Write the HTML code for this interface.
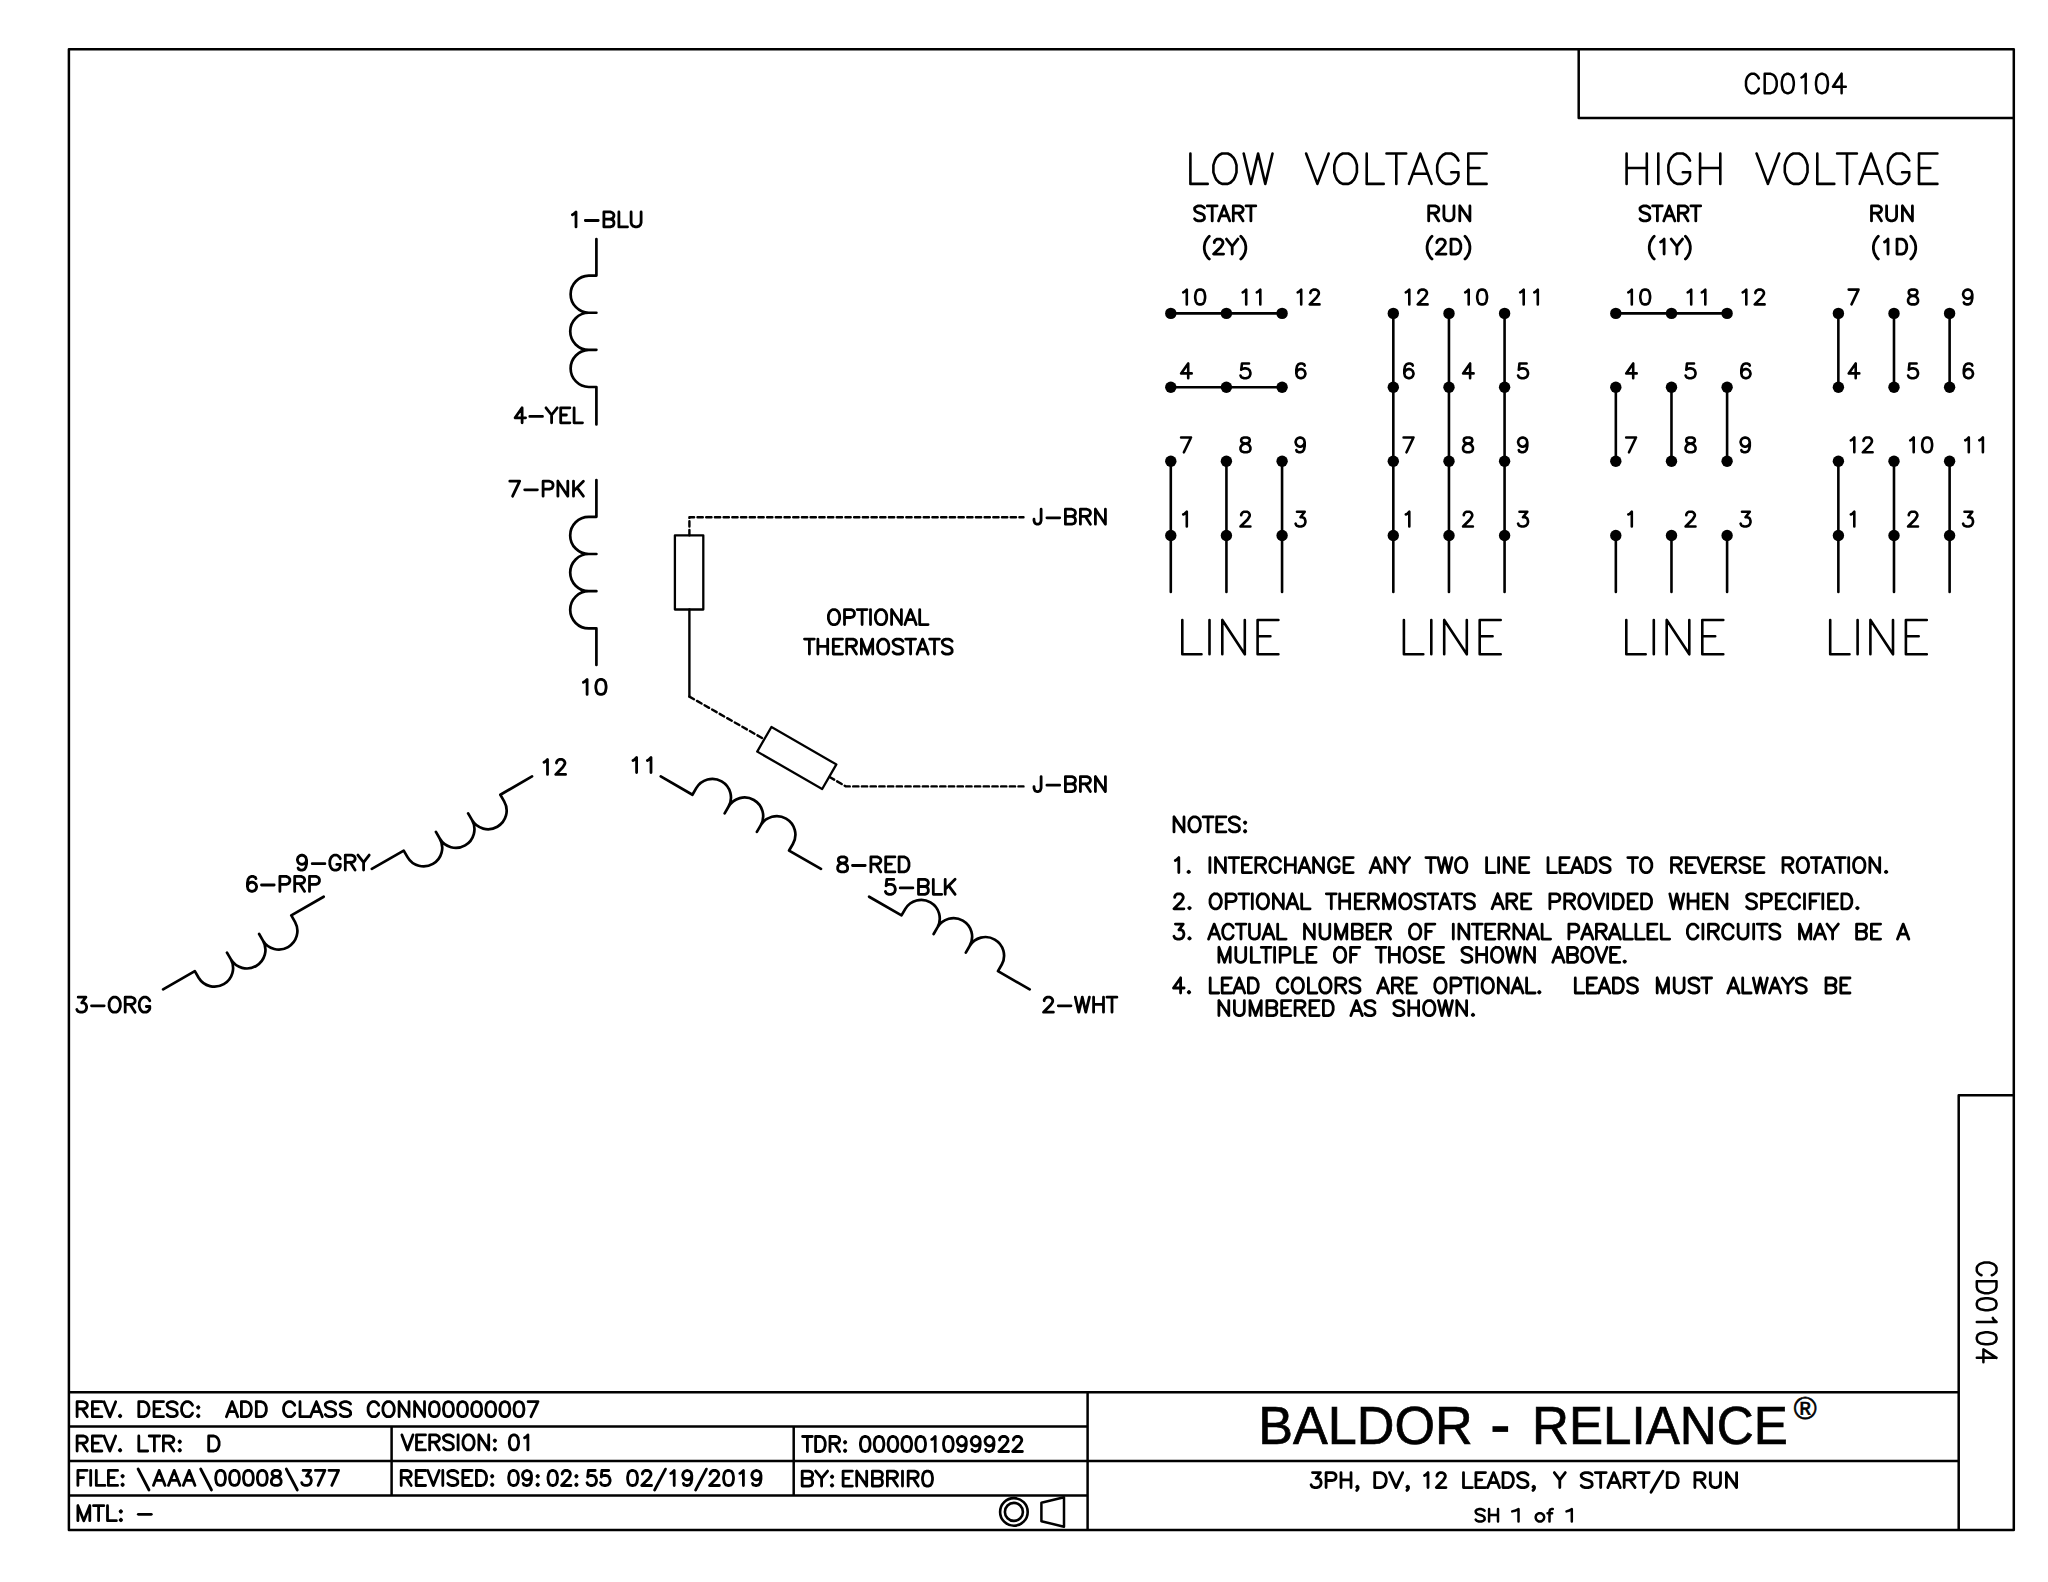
<!DOCTYPE html>
<html lang="en">
<head>
<meta charset="utf-8">
<title>CD0104 - Baldor-Reliance connection diagram</title>
<style>
html,body{margin:0;padding:0;background:#fff;}
body{width:2048px;height:1582px;overflow:hidden;font-family:"Liberation Sans",sans-serif;}
svg{display:block;position:absolute;left:0;top:0;}
.ink{fill:none;stroke:#000;stroke-linecap:round;stroke-linejoin:round;}
.txt text{font-family:"Liberation Sans",sans-serif;fill:#000;fill-opacity:0;}
.brand{font-family:"Liberation Sans",sans-serif;fill:#000;}
</style>
</head>
<body>
<svg width="2048" height="1582" viewBox="0 0 2048 1582">
<rect x="0" y="0" width="2048" height="1582" fill="#fff"/>
<g class="txt">
<text x="1181.9" y="305.7" font-size="21.5" textLength="24.5" lengthAdjust="spacingAndGlyphs">10</text>
<text x="1241.4" y="305.7" font-size="21.5" textLength="20.2" lengthAdjust="spacingAndGlyphs">11</text>
<text x="1296.4" y="305.7" font-size="21.5" textLength="24.5" lengthAdjust="spacingAndGlyphs">12</text>
<text x="1179.8" y="379.6" font-size="21.5" textLength="13.2" lengthAdjust="spacingAndGlyphs">4</text>
<text x="1239.2" y="379.6" font-size="21.5" textLength="12.5" lengthAdjust="spacingAndGlyphs">5</text>
<text x="1295.0" y="379.6" font-size="21.5" textLength="11.8" lengthAdjust="spacingAndGlyphs">6</text>
<text x="1179.8" y="453.6" font-size="21.5" textLength="12.5" lengthAdjust="spacingAndGlyphs">7</text>
<text x="1239.2" y="453.6" font-size="21.5" textLength="12.5" lengthAdjust="spacingAndGlyphs">8</text>
<text x="1294.3" y="453.6" font-size="21.5" textLength="11.8" lengthAdjust="spacingAndGlyphs">9</text>
<text x="1181.9" y="527.8" font-size="21.5" textLength="6.1" lengthAdjust="spacingAndGlyphs">1</text>
<text x="1239.2" y="527.8" font-size="21.5" textLength="12.5" lengthAdjust="spacingAndGlyphs">2</text>
<text x="1294.3" y="527.8" font-size="21.5" textLength="12.5" lengthAdjust="spacingAndGlyphs">3</text>
<text x="1404.5" y="305.7" font-size="21.5" textLength="24.5" lengthAdjust="spacingAndGlyphs">12</text>
<text x="1463.9" y="305.7" font-size="21.5" textLength="24.5" lengthAdjust="spacingAndGlyphs">10</text>
<text x="1518.9" y="305.7" font-size="21.5" textLength="20.2" lengthAdjust="spacingAndGlyphs">11</text>
<text x="1403.0" y="379.6" font-size="21.5" textLength="11.8" lengthAdjust="spacingAndGlyphs">6</text>
<text x="1461.8" y="379.6" font-size="21.5" textLength="13.2" lengthAdjust="spacingAndGlyphs">4</text>
<text x="1516.8" y="379.6" font-size="21.5" textLength="12.5" lengthAdjust="spacingAndGlyphs">5</text>
<text x="1402.3" y="453.6" font-size="21.5" textLength="12.5" lengthAdjust="spacingAndGlyphs">7</text>
<text x="1461.8" y="453.6" font-size="21.5" textLength="12.5" lengthAdjust="spacingAndGlyphs">8</text>
<text x="1516.8" y="453.6" font-size="21.5" textLength="11.8" lengthAdjust="spacingAndGlyphs">9</text>
<text x="1404.5" y="527.8" font-size="21.5" textLength="6.1" lengthAdjust="spacingAndGlyphs">1</text>
<text x="1461.8" y="527.8" font-size="21.5" textLength="12.5" lengthAdjust="spacingAndGlyphs">2</text>
<text x="1516.8" y="527.8" font-size="21.5" textLength="12.5" lengthAdjust="spacingAndGlyphs">3</text>
<text x="1627.0" y="305.7" font-size="21.5" textLength="24.5" lengthAdjust="spacingAndGlyphs">10</text>
<text x="1686.4" y="305.7" font-size="21.5" textLength="20.2" lengthAdjust="spacingAndGlyphs">11</text>
<text x="1741.4" y="305.7" font-size="21.5" textLength="24.5" lengthAdjust="spacingAndGlyphs">12</text>
<text x="1624.9" y="379.6" font-size="21.5" textLength="13.2" lengthAdjust="spacingAndGlyphs">4</text>
<text x="1684.3" y="379.6" font-size="21.5" textLength="12.5" lengthAdjust="spacingAndGlyphs">5</text>
<text x="1740.0" y="379.6" font-size="21.5" textLength="11.8" lengthAdjust="spacingAndGlyphs">6</text>
<text x="1624.9" y="453.6" font-size="21.5" textLength="12.5" lengthAdjust="spacingAndGlyphs">7</text>
<text x="1684.3" y="453.6" font-size="21.5" textLength="12.5" lengthAdjust="spacingAndGlyphs">8</text>
<text x="1739.3" y="453.6" font-size="21.5" textLength="11.8" lengthAdjust="spacingAndGlyphs">9</text>
<text x="1627.0" y="527.8" font-size="21.5" textLength="6.1" lengthAdjust="spacingAndGlyphs">1</text>
<text x="1684.3" y="527.8" font-size="21.5" textLength="12.5" lengthAdjust="spacingAndGlyphs">2</text>
<text x="1739.3" y="527.8" font-size="21.5" textLength="12.5" lengthAdjust="spacingAndGlyphs">3</text>
<text x="1847.4" y="305.7" font-size="21.5" textLength="12.5" lengthAdjust="spacingAndGlyphs">7</text>
<text x="1906.8" y="305.7" font-size="21.5" textLength="12.5" lengthAdjust="spacingAndGlyphs">8</text>
<text x="1961.8" y="305.7" font-size="21.5" textLength="11.8" lengthAdjust="spacingAndGlyphs">9</text>
<text x="1847.4" y="379.6" font-size="21.5" textLength="13.2" lengthAdjust="spacingAndGlyphs">4</text>
<text x="1906.8" y="379.6" font-size="21.5" textLength="12.5" lengthAdjust="spacingAndGlyphs">5</text>
<text x="1962.5" y="379.6" font-size="21.5" textLength="11.8" lengthAdjust="spacingAndGlyphs">6</text>
<text x="1849.5" y="453.6" font-size="21.5" textLength="24.5" lengthAdjust="spacingAndGlyphs">12</text>
<text x="1908.9" y="453.6" font-size="21.5" textLength="24.5" lengthAdjust="spacingAndGlyphs">10</text>
<text x="1964.0" y="453.6" font-size="21.5" textLength="20.2" lengthAdjust="spacingAndGlyphs">11</text>
<text x="1849.5" y="527.8" font-size="21.5" textLength="6.1" lengthAdjust="spacingAndGlyphs">1</text>
<text x="1906.8" y="527.8" font-size="21.5" textLength="12.5" lengthAdjust="spacingAndGlyphs">2</text>
<text x="1961.8" y="527.8" font-size="21.5" textLength="12.5" lengthAdjust="spacingAndGlyphs">3</text>
<text x="1189.1" y="185.2" font-size="44.2" textLength="298.8" lengthAdjust="spacingAndGlyphs">LOW VOLTAGE</text>
<text x="1625.3" y="185.2" font-size="44.2" textLength="313.4" lengthAdjust="spacingAndGlyphs">HIGH VOLTAGE</text>
<text x="1193.2" y="222.3" font-size="21.7" textLength="64.0" lengthAdjust="spacingAndGlyphs">START</text>
<text x="1427.3" y="222.3" font-size="21.7" textLength="44.0" lengthAdjust="spacingAndGlyphs">RUN</text>
<text x="1638.6" y="222.3" font-size="21.7" textLength="63.5" lengthAdjust="spacingAndGlyphs">START</text>
<text x="1870.1" y="222.3" font-size="21.7" textLength="43.7" lengthAdjust="spacingAndGlyphs">RUN</text>
<text x="1202.9" y="255.5" font-size="21.7" textLength="44.3" lengthAdjust="spacingAndGlyphs">(2Y)</text>
<text x="1425.7" y="255.5" font-size="21.7" textLength="45.6" lengthAdjust="spacingAndGlyphs">(2D)</text>
<text x="1647.9" y="255.5" font-size="21.7" textLength="43.8" lengthAdjust="spacingAndGlyphs">(1Y)</text>
<text x="1872.0" y="255.5" font-size="21.7" textLength="45.1" lengthAdjust="spacingAndGlyphs">(1D)</text>
<text x="1181.0" y="655.6" font-size="49.8" textLength="98.7" lengthAdjust="spacingAndGlyphs">LINE</text>
<text x="1402.6" y="655.6" font-size="49.8" textLength="99.4" lengthAdjust="spacingAndGlyphs">LINE</text>
<text x="1625.0" y="655.6" font-size="49.8" textLength="99.6" lengthAdjust="spacingAndGlyphs">LINE</text>
<text x="1828.9" y="655.6" font-size="49.8" textLength="99.2" lengthAdjust="spacingAndGlyphs">LINE</text>
<text x="571.0" y="228.3" font-size="21.7" textLength="71.5" lengthAdjust="spacingAndGlyphs">1-BLU</text>
<text x="513.7" y="424.2" font-size="21.7" textLength="70.2" lengthAdjust="spacingAndGlyphs">4-YEL</text>
<text x="508.4" y="497.6" font-size="21.7" textLength="76.4" lengthAdjust="spacingAndGlyphs">7-PNK</text>
<text x="582.0" y="695.8" font-size="21.7" textLength="25.5" lengthAdjust="spacingAndGlyphs">10</text>
<text x="542.6" y="775.8" font-size="21.7" textLength="24.4" lengthAdjust="spacingAndGlyphs">12</text>
<text x="631.6" y="774.0" font-size="21.7" textLength="20.8" lengthAdjust="spacingAndGlyphs">11</text>
<text x="1032.6" y="525.6" font-size="21.7" textLength="74.2" lengthAdjust="spacingAndGlyphs">J-BRN</text>
<text x="1032.6" y="793.0" font-size="21.7" textLength="74.2" lengthAdjust="spacingAndGlyphs">J-BRN</text>
<text x="827.0" y="626.0" font-size="21.7" textLength="102.5" lengthAdjust="spacingAndGlyphs">OPTIONAL</text>
<text x="803.1" y="655.5" font-size="21.7" textLength="150.4" lengthAdjust="spacingAndGlyphs">THERMOSTATS</text>
<text x="296.0" y="871.5" font-size="21.7" textLength="74.6" lengthAdjust="spacingAndGlyphs">9-GRY</text>
<text x="246.0" y="892.8" font-size="21.7" textLength="74.8" lengthAdjust="spacingAndGlyphs">6-PRP</text>
<text x="75.4" y="1013.6" font-size="21.7" textLength="75.8" lengthAdjust="spacingAndGlyphs">3-ORG</text>
<text x="836.3" y="873.3" font-size="21.7" textLength="74.1" lengthAdjust="spacingAndGlyphs">8-RED</text>
<text x="884.0" y="895.7" font-size="21.7" textLength="72.5" lengthAdjust="spacingAndGlyphs">5-BLK</text>
<text x="1042.1" y="1013.6" font-size="21.7" textLength="76.2" lengthAdjust="spacingAndGlyphs">2-WHT</text>
<text x="1172.6" y="833.3" font-size="21.7" textLength="74.6" lengthAdjust="spacingAndGlyphs">NOTES:</text>
<text x="1173.9" y="874.0" font-size="21.7" textLength="714.3" lengthAdjust="spacingAndGlyphs">1. INTERCHANGE ANY TWO LINE LEADS TO REVERSE ROTATION.</text>
<text x="1172.6" y="910.2" font-size="21.7" textLength="686.9" lengthAdjust="spacingAndGlyphs">2. OPTIONAL THERMOSTATS ARE PROVIDED WHEN SPECIFIED.</text>
<text x="1172.6" y="940.5" font-size="21.7" textLength="737.6" lengthAdjust="spacingAndGlyphs">3. ACTUAL NUMBER OF INTERNAL PARALLEL CIRCUITS MAY BE A</text>
<text x="1217.5" y="963.7" font-size="21.7" textLength="409.3" lengthAdjust="spacingAndGlyphs">MULTIPLE OF THOSE SHOWN ABOVE.</text>
<text x="1172.1" y="994.4" font-size="21.7" textLength="679.3" lengthAdjust="spacingAndGlyphs">4. LEAD COLORS ARE OPTIONAL.  LEADS MUST ALWAYS BE</text>
<text x="1217.5" y="1017.0" font-size="21.7" textLength="257.6" lengthAdjust="spacingAndGlyphs">NUMBERED AS SHOWN.</text>
<text x="1744.7" y="94.4" font-size="28.1" textLength="102.4" lengthAdjust="spacingAndGlyphs">CD0104</text>
<text x="75.7" y="1418.1" font-size="21.7" textLength="463.7" lengthAdjust="spacingAndGlyphs">REV. DESC:  ADD CLASS CONN00000007</text>
<text x="75.7" y="1452.4" font-size="21.7" textLength="144.8" lengthAdjust="spacingAndGlyphs">REV. LTR:  D</text>
<text x="400.5" y="1451.3" font-size="21.7" textLength="128.8" lengthAdjust="spacingAndGlyphs">VERSION: 01</text>
<text x="801.2" y="1452.9" font-size="21.7" textLength="222.6" lengthAdjust="spacingAndGlyphs">TDR: 000001099922</text>
<text x="76.5" y="1486.8" font-size="21.7" textLength="263.5" lengthAdjust="spacingAndGlyphs">FILE: \AAA\00008\377</text>
<text x="399.8" y="1486.9" font-size="21.7" textLength="362.6" lengthAdjust="spacingAndGlyphs">REVISED: 09:02:55 02/19/2019</text>
<text x="800.8" y="1487.5" font-size="21.7" textLength="133.1" lengthAdjust="spacingAndGlyphs">BY: ENBRIR0</text>
<text x="76.5" y="1522.1" font-size="21.7" textLength="76.2" lengthAdjust="spacingAndGlyphs">MTL: -</text>
<text x="1309.7" y="1489.0" font-size="21.7" textLength="428.3" lengthAdjust="spacingAndGlyphs">3PH, DV, 12 LEADS, Y START/D RUN</text>
<text x="1474.4" y="1522.7" font-size="18.0" textLength="98.7" lengthAdjust="spacingAndGlyphs">SH 1 of 1</text>
<text transform="translate(1976.8,1261.2) rotate(90)" font-size="28" textLength="102" lengthAdjust="spacingAndGlyphs">CD0104</text>
</g>
<g class="ink">
<g stroke-width="2.5" stroke-linecap="butt">
<path d="M68.9,49.2H2013.8V1530.1H68.9Z"/>
<path d="M1578.7,49.2V117.9H2013.8"/>
<path d="M1958.7,1530.1V1095.3H2013.8"/>
<path d="M68.9,1392.2H1958.7"/>
<path d="M1087.6,1392.2V1530.1"/>
<path d="M68.9,1461.1H1958.7"/>
<path d="M68.9,1426.5H1087.6M68.9,1495.5H1087.6"/>
<path d="M391.6,1426.5V1495.5M793.7,1426.5V1495.5"/>
</g>
<path d="M596.4,239.0V275.6H588.77A18.57,18.57 0 0 0 588.77,312.73H596.4H588.77A18.57,18.57 0 0 0 588.77,349.87H596.4H588.77A18.57,18.57 0 0 0 588.77,387.00H596.4V424.4" stroke-width="2.7"/>
<path d="M596.4,480.0V516.8H588.80A18.60,18.60 0 0 0 588.80,554.00H596.4H588.80A18.60,18.60 0 0 0 588.80,591.20H596.4H588.80A18.60,18.60 0 0 0 588.80,628.40H596.4V665.0" stroke-width="2.7"/>
<path d="M596.4,239.0V275.6H588.77A18.57,18.57 0 0 0 588.77,312.73H596.4H588.77A18.57,18.57 0 0 0 588.77,349.87H596.4H588.77A18.57,18.57 0 0 0 588.77,387.00H596.4V424.4" stroke-width="2.7" transform="rotate(120 596.4 739.3)"/>
<path d="M596.4,480.0V516.8H588.80A18.60,18.60 0 0 0 588.80,554.00H596.4H588.80A18.60,18.60 0 0 0 588.80,591.20H596.4H588.80A18.60,18.60 0 0 0 588.80,628.40H596.4V665.0" stroke-width="2.7" transform="rotate(120 596.4 739.3)"/>
<path d="M596.4,239.0V275.6H588.77A18.57,18.57 0 0 0 588.77,312.73H596.4H588.77A18.57,18.57 0 0 0 588.77,349.87H596.4H588.77A18.57,18.57 0 0 0 588.77,387.00H596.4V424.4" stroke-width="2.7" transform="rotate(-120 596.4 739.3)"/>
<path d="M596.4,480.0V516.8H588.80A18.60,18.60 0 0 0 588.80,554.00H596.4H588.80A18.60,18.60 0 0 0 588.80,591.20H596.4H588.80A18.60,18.60 0 0 0 588.80,628.40H596.4V665.0" stroke-width="2.7" transform="rotate(-120 596.4 739.3)"/>
<g stroke-width="2.4">
<path d="M689.4,535.3V517.3H1023.5" stroke-dasharray="5.3 3.4"/>
<rect x="674.9" y="535.3" width="28.4" height="74.2" stroke-width="2.3"/>
<path d="M689.4,609.5V696.6"/><path d="M689.4,696.6L764.3,739.3" stroke-dasharray="5.3 3.4"/>
<g transform="translate(796.8,758) rotate(30)"><rect x="-37.5" y="-14.2" width="75" height="28.4" stroke-width="2.3"/></g>
<path d="M829.6,777.0L845.8,786.4H1023.5" stroke-dasharray="5.3 3.4"/>
</g>
<circle cx="1170.8" cy="313.4" r="5.7" fill="#000" stroke="none"/>
<circle cx="1170.8" cy="387.3" r="5.7" fill="#000" stroke="none"/>
<circle cx="1170.8" cy="461.3" r="5.7" fill="#000" stroke="none"/>
<circle cx="1170.8" cy="535.5" r="5.7" fill="#000" stroke="none"/>
<circle cx="1226.4" cy="313.4" r="5.7" fill="#000" stroke="none"/>
<circle cx="1226.4" cy="387.3" r="5.7" fill="#000" stroke="none"/>
<circle cx="1226.4" cy="461.3" r="5.7" fill="#000" stroke="none"/>
<circle cx="1226.4" cy="535.5" r="5.7" fill="#000" stroke="none"/>
<circle cx="1282.1" cy="313.4" r="5.7" fill="#000" stroke="none"/>
<circle cx="1282.1" cy="387.3" r="5.7" fill="#000" stroke="none"/>
<circle cx="1282.1" cy="461.3" r="5.7" fill="#000" stroke="none"/>
<circle cx="1282.1" cy="535.5" r="5.7" fill="#000" stroke="none"/>
<circle cx="1393.3" cy="313.4" r="5.7" fill="#000" stroke="none"/>
<circle cx="1393.3" cy="387.3" r="5.7" fill="#000" stroke="none"/>
<circle cx="1393.3" cy="461.3" r="5.7" fill="#000" stroke="none"/>
<circle cx="1393.3" cy="535.5" r="5.7" fill="#000" stroke="none"/>
<circle cx="1449.0" cy="313.4" r="5.7" fill="#000" stroke="none"/>
<circle cx="1449.0" cy="387.3" r="5.7" fill="#000" stroke="none"/>
<circle cx="1449.0" cy="461.3" r="5.7" fill="#000" stroke="none"/>
<circle cx="1449.0" cy="535.5" r="5.7" fill="#000" stroke="none"/>
<circle cx="1504.6" cy="313.4" r="5.7" fill="#000" stroke="none"/>
<circle cx="1504.6" cy="387.3" r="5.7" fill="#000" stroke="none"/>
<circle cx="1504.6" cy="461.3" r="5.7" fill="#000" stroke="none"/>
<circle cx="1504.6" cy="535.5" r="5.7" fill="#000" stroke="none"/>
<circle cx="1615.8" cy="313.4" r="5.7" fill="#000" stroke="none"/>
<circle cx="1615.8" cy="387.3" r="5.7" fill="#000" stroke="none"/>
<circle cx="1615.8" cy="461.3" r="5.7" fill="#000" stroke="none"/>
<circle cx="1615.8" cy="535.5" r="5.7" fill="#000" stroke="none"/>
<circle cx="1671.5" cy="313.4" r="5.7" fill="#000" stroke="none"/>
<circle cx="1671.5" cy="387.3" r="5.7" fill="#000" stroke="none"/>
<circle cx="1671.5" cy="461.3" r="5.7" fill="#000" stroke="none"/>
<circle cx="1671.5" cy="535.5" r="5.7" fill="#000" stroke="none"/>
<circle cx="1727.1" cy="313.4" r="5.7" fill="#000" stroke="none"/>
<circle cx="1727.1" cy="387.3" r="5.7" fill="#000" stroke="none"/>
<circle cx="1727.1" cy="461.3" r="5.7" fill="#000" stroke="none"/>
<circle cx="1727.1" cy="535.5" r="5.7" fill="#000" stroke="none"/>
<circle cx="1838.4" cy="313.4" r="5.7" fill="#000" stroke="none"/>
<circle cx="1838.4" cy="387.3" r="5.7" fill="#000" stroke="none"/>
<circle cx="1838.4" cy="461.3" r="5.7" fill="#000" stroke="none"/>
<circle cx="1838.4" cy="535.5" r="5.7" fill="#000" stroke="none"/>
<circle cx="1894.0" cy="313.4" r="5.7" fill="#000" stroke="none"/>
<circle cx="1894.0" cy="387.3" r="5.7" fill="#000" stroke="none"/>
<circle cx="1894.0" cy="461.3" r="5.7" fill="#000" stroke="none"/>
<circle cx="1894.0" cy="535.5" r="5.7" fill="#000" stroke="none"/>
<circle cx="1949.6" cy="313.4" r="5.7" fill="#000" stroke="none"/>
<circle cx="1949.6" cy="387.3" r="5.7" fill="#000" stroke="none"/>
<circle cx="1949.6" cy="461.3" r="5.7" fill="#000" stroke="none"/>
<circle cx="1949.6" cy="535.5" r="5.7" fill="#000" stroke="none"/>
<path d="M1170.80,313.40L1282.06,313.40" stroke-width="2.6"/>
<path d="M1170.80,387.30L1282.06,387.30" stroke-width="2.6"/>
<path d="M1170.80,461.30L1170.80,591.90" stroke-width="2.6"/>
<path d="M1226.43,461.30L1226.43,591.90" stroke-width="2.6"/>
<path d="M1282.06,461.30L1282.06,591.90" stroke-width="2.6"/>
<path d="M1393.32,313.40L1393.32,591.90" stroke-width="2.6"/>
<path d="M1448.95,313.40L1448.95,591.90" stroke-width="2.6"/>
<path d="M1504.58,313.40L1504.58,591.90" stroke-width="2.6"/>
<path d="M1615.84,313.40L1727.10,313.40" stroke-width="2.6"/>
<path d="M1615.84,387.30L1615.84,461.30" stroke-width="2.6"/>
<path d="M1615.84,535.50L1615.84,591.90" stroke-width="2.6"/>
<path d="M1671.47,387.30L1671.47,461.30" stroke-width="2.6"/>
<path d="M1671.47,535.50L1671.47,591.90" stroke-width="2.6"/>
<path d="M1727.10,387.30L1727.10,461.30" stroke-width="2.6"/>
<path d="M1727.10,535.50L1727.10,591.90" stroke-width="2.6"/>
<path d="M1838.36,313.40L1838.36,387.30" stroke-width="2.6"/>
<path d="M1838.36,461.30L1838.36,591.90" stroke-width="2.6"/>
<path d="M1893.99,313.40L1893.99,387.30" stroke-width="2.6"/>
<path d="M1893.99,461.30L1893.99,591.90" stroke-width="2.6"/>
<path d="M1949.62,313.40L1949.62,387.30" stroke-width="2.6"/>
<path d="M1949.62,461.30L1949.62,591.90" stroke-width="2.6"/>
<path d="M1183.2,292.4 1184.6,291.7 1186.8,289.6 1186.8,304.4M1199.4,289.6 1197.3,290.3 1195.9,292.4 1195.2,295.9 1195.2,298.1 1195.9,301.6 1197.3,303.7 1199.4,304.4 1200.9,304.4 1203.0,303.7 1204.4,301.6 1205.1,298.1 1205.1,295.9 1204.4,292.4 1203.0,290.3 1200.9,289.6 1199.4,289.6" stroke-width="2.6"/>
<path d="M1242.7,292.4 1244.1,291.7 1246.2,289.6 1246.2,304.4M1256.8,292.4 1258.2,291.7 1260.3,289.6 1260.3,304.4" stroke-width="2.6"/>
<path d="M1297.7,292.4 1299.1,291.7 1301.2,289.6 1301.2,304.4M1310.4,293.1 1310.4,292.4 1311.1,291.0 1311.8,290.3 1313.2,289.6 1316.0,289.6 1317.4,290.3 1318.1,291.0 1318.8,292.4 1318.8,293.8 1318.1,295.2 1316.7,297.3 1309.7,304.4 1319.5,304.4" stroke-width="2.6"/>
<path d="M1188.2,363.5 1181.1,373.4 1191.7,373.4M1188.2,363.5 1188.2,378.3" stroke-width="2.6"/>
<path d="M1249.0,363.5 1242.0,363.5 1241.2,369.8 1242.0,369.1 1244.1,368.4 1246.2,368.4 1248.3,369.1 1249.7,370.5 1250.4,372.7 1250.4,374.1 1249.7,376.2 1248.3,377.6 1246.2,378.3 1244.1,378.3 1242.0,377.6 1241.2,376.9 1240.5,375.5" stroke-width="2.6"/>
<path d="M1304.7,365.6 1304.0,364.2 1301.9,363.5 1300.5,363.5 1298.4,364.2 1297.0,366.3 1296.3,369.8 1296.3,373.4 1297.0,376.2 1298.4,377.6 1300.5,378.3 1301.2,378.3 1303.3,377.6 1304.7,376.2 1305.4,374.1 1305.4,373.4 1304.7,371.2 1303.3,369.8 1301.2,369.1 1300.5,369.1 1298.4,369.8 1297.0,371.2 1296.3,373.4" stroke-width="2.6"/>
<path d="M1191.0,437.5 1183.9,452.3M1181.1,437.5 1191.0,437.5" stroke-width="2.6"/>
<path d="M1244.1,437.5 1242.0,438.2 1241.2,439.6 1241.2,441.0 1242.0,442.4 1243.4,443.1 1246.2,443.8 1248.3,444.5 1249.7,446.0 1250.4,447.4 1250.4,449.5 1249.7,450.9 1249.0,451.6 1246.9,452.3 1244.1,452.3 1242.0,451.6 1241.2,450.9 1240.5,449.5 1240.5,447.4 1241.2,446.0 1242.7,444.5 1244.8,443.8 1247.6,443.1 1249.0,442.4 1249.7,441.0 1249.7,439.6 1249.0,438.2 1246.9,437.5 1244.1,437.5" stroke-width="2.6"/>
<path d="M1304.7,442.4 1304.0,444.5 1302.6,446.0 1300.5,446.7 1299.8,446.7 1297.7,446.0 1296.3,444.5 1295.6,442.4 1295.6,441.7 1296.3,439.6 1297.7,438.2 1299.8,437.5 1300.5,437.5 1302.6,438.2 1304.0,439.6 1304.7,442.4 1304.7,446.0 1304.0,449.5 1302.6,451.6 1300.5,452.3 1299.1,452.3 1297.0,451.6 1296.3,450.2" stroke-width="2.6"/>
<path d="M1183.2,514.5 1184.6,513.8 1186.8,511.7 1186.8,526.5" stroke-width="2.6"/>
<path d="M1241.2,515.2 1241.2,514.5 1242.0,513.1 1242.7,512.4 1244.1,511.7 1246.9,511.7 1248.3,512.4 1249.0,513.1 1249.7,514.5 1249.7,515.9 1249.0,517.3 1247.6,519.5 1240.5,526.5 1250.4,526.5" stroke-width="2.6"/>
<path d="M1297.0,511.7 1304.7,511.7 1300.5,517.3 1302.6,517.3 1304.0,518.0 1304.7,518.7 1305.4,520.9 1305.4,522.3 1304.7,524.4 1303.3,525.8 1301.2,526.5 1299.1,526.5 1297.0,525.8 1296.3,525.1 1295.6,523.7" stroke-width="2.6"/>
<path d="M1405.8,292.4 1407.2,291.7 1409.3,289.6 1409.3,304.4M1418.4,293.1 1418.4,292.4 1419.1,291.0 1419.8,290.3 1421.3,289.6 1424.1,289.6 1425.5,290.3 1426.2,291.0 1426.9,292.4 1426.9,293.8 1426.2,295.2 1424.8,297.3 1417.7,304.4 1427.6,304.4" stroke-width="2.6"/>
<path d="M1465.2,292.4 1466.6,291.7 1468.7,289.6 1468.7,304.4M1481.4,289.6 1479.3,290.3 1477.9,292.4 1477.2,295.9 1477.2,298.1 1477.9,301.6 1479.3,303.7 1481.4,304.4 1482.8,304.4 1484.9,303.7 1486.3,301.6 1487.0,298.1 1487.0,295.9 1486.3,292.4 1484.9,290.3 1482.8,289.6 1481.4,289.6" stroke-width="2.6"/>
<path d="M1520.2,292.4 1521.6,291.7 1523.7,289.6 1523.7,304.4M1534.3,292.4 1535.7,291.7 1537.8,289.6 1537.8,304.4" stroke-width="2.6"/>
<path d="M1412.8,365.6 1412.1,364.2 1410.0,363.5 1408.6,363.5 1406.5,364.2 1405.0,366.3 1404.3,369.8 1404.3,373.4 1405.0,376.2 1406.5,377.6 1408.6,378.3 1409.3,378.3 1411.4,377.6 1412.8,376.2 1413.5,374.1 1413.5,373.4 1412.8,371.2 1411.4,369.8 1409.3,369.1 1408.6,369.1 1406.5,369.8 1405.0,371.2 1404.3,373.4" stroke-width="2.6"/>
<path d="M1470.1,363.5 1463.1,373.4 1473.6,373.4M1470.1,363.5 1470.1,378.3" stroke-width="2.6"/>
<path d="M1526.6,363.5 1519.5,363.5 1518.8,369.8 1519.5,369.1 1521.6,368.4 1523.7,368.4 1525.8,369.1 1527.3,370.5 1528.0,372.7 1528.0,374.1 1527.3,376.2 1525.8,377.6 1523.7,378.3 1521.6,378.3 1519.5,377.6 1518.8,376.9 1518.1,375.5" stroke-width="2.6"/>
<path d="M1413.5,437.5 1406.5,452.3M1403.6,437.5 1413.5,437.5" stroke-width="2.6"/>
<path d="M1466.6,437.5 1464.5,438.2 1463.8,439.6 1463.8,441.0 1464.5,442.4 1465.9,443.1 1468.7,443.8 1470.8,444.5 1472.2,446.0 1472.9,447.4 1472.9,449.5 1472.2,450.9 1471.5,451.6 1469.4,452.3 1466.6,452.3 1464.5,451.6 1463.8,450.9 1463.1,449.5 1463.1,447.4 1463.8,446.0 1465.2,444.5 1467.3,443.8 1470.1,443.1 1471.5,442.4 1472.2,441.0 1472.2,439.6 1471.5,438.2 1469.4,437.5 1466.6,437.5" stroke-width="2.6"/>
<path d="M1527.3,442.4 1526.6,444.5 1525.1,446.0 1523.0,446.7 1522.3,446.7 1520.2,446.0 1518.8,444.5 1518.1,442.4 1518.1,441.7 1518.8,439.6 1520.2,438.2 1522.3,437.5 1523.0,437.5 1525.1,438.2 1526.6,439.6 1527.3,442.4 1527.3,446.0 1526.6,449.5 1525.1,451.6 1523.0,452.3 1521.6,452.3 1519.5,451.6 1518.8,450.2" stroke-width="2.6"/>
<path d="M1405.8,514.5 1407.2,513.8 1409.3,511.7 1409.3,526.5" stroke-width="2.6"/>
<path d="M1463.8,515.2 1463.8,514.5 1464.5,513.1 1465.2,512.4 1466.6,511.7 1469.4,511.7 1470.8,512.4 1471.5,513.1 1472.2,514.5 1472.2,515.9 1471.5,517.3 1470.1,519.5 1463.1,526.5 1472.9,526.5" stroke-width="2.6"/>
<path d="M1519.5,511.7 1527.3,511.7 1523.0,517.3 1525.1,517.3 1526.6,518.0 1527.3,518.7 1528.0,520.9 1528.0,522.3 1527.3,524.4 1525.8,525.8 1523.7,526.5 1521.6,526.5 1519.5,525.8 1518.8,525.1 1518.1,523.7" stroke-width="2.6"/>
<path d="M1628.3,292.4 1629.7,291.7 1631.8,289.6 1631.8,304.4M1644.5,289.6 1642.4,290.3 1641.0,292.4 1640.3,295.9 1640.3,298.1 1641.0,301.6 1642.4,303.7 1644.5,304.4 1645.9,304.4 1648.0,303.7 1649.4,301.6 1650.1,298.1 1650.1,295.9 1649.4,292.4 1648.0,290.3 1645.9,289.6 1644.5,289.6" stroke-width="2.6"/>
<path d="M1687.7,292.4 1689.1,291.7 1691.2,289.6 1691.2,304.4M1701.8,292.4 1703.2,291.7 1705.3,289.6 1705.3,304.4" stroke-width="2.6"/>
<path d="M1742.7,292.4 1744.1,291.7 1746.3,289.6 1746.3,304.4M1755.4,293.1 1755.4,292.4 1756.1,291.0 1756.8,290.3 1758.2,289.6 1761.1,289.6 1762.5,290.3 1763.2,291.0 1763.9,292.4 1763.9,293.8 1763.2,295.2 1761.8,297.3 1754.7,304.4 1764.6,304.4" stroke-width="2.6"/>
<path d="M1633.2,363.5 1626.2,373.4 1636.7,373.4M1633.2,363.5 1633.2,378.3" stroke-width="2.6"/>
<path d="M1694.0,363.5 1687.0,363.5 1686.3,369.8 1687.0,369.1 1689.1,368.4 1691.2,368.4 1693.3,369.1 1694.8,370.5 1695.5,372.7 1695.5,374.1 1694.8,376.2 1693.3,377.6 1691.2,378.3 1689.1,378.3 1687.0,377.6 1686.3,376.9 1685.6,375.5" stroke-width="2.6"/>
<path d="M1749.8,365.6 1749.1,364.2 1747.0,363.5 1745.5,363.5 1743.4,364.2 1742.0,366.3 1741.3,369.8 1741.3,373.4 1742.0,376.2 1743.4,377.6 1745.5,378.3 1746.3,378.3 1748.4,377.6 1749.8,376.2 1750.5,374.1 1750.5,373.4 1749.8,371.2 1748.4,369.8 1746.3,369.1 1745.5,369.1 1743.4,369.8 1742.0,371.2 1741.3,373.4" stroke-width="2.6"/>
<path d="M1636.0,437.5 1629.0,452.3M1626.2,437.5 1636.0,437.5" stroke-width="2.6"/>
<path d="M1689.1,437.5 1687.0,438.2 1686.3,439.6 1686.3,441.0 1687.0,442.4 1688.4,443.1 1691.2,443.8 1693.3,444.5 1694.8,446.0 1695.5,447.4 1695.5,449.5 1694.8,450.9 1694.0,451.6 1691.9,452.3 1689.1,452.3 1687.0,451.6 1686.3,450.9 1685.6,449.5 1685.6,447.4 1686.3,446.0 1687.7,444.5 1689.8,443.8 1692.6,443.1 1694.0,442.4 1694.8,441.0 1694.8,439.6 1694.0,438.2 1691.9,437.5 1689.1,437.5" stroke-width="2.6"/>
<path d="M1749.8,442.4 1749.1,444.5 1747.7,446.0 1745.5,446.7 1744.8,446.7 1742.7,446.0 1741.3,444.5 1740.6,442.4 1740.6,441.7 1741.3,439.6 1742.7,438.2 1744.8,437.5 1745.5,437.5 1747.7,438.2 1749.1,439.6 1749.8,442.4 1749.8,446.0 1749.1,449.5 1747.7,451.6 1745.5,452.3 1744.1,452.3 1742.0,451.6 1741.3,450.2" stroke-width="2.6"/>
<path d="M1628.3,514.5 1629.7,513.8 1631.8,511.7 1631.8,526.5" stroke-width="2.6"/>
<path d="M1686.3,515.2 1686.3,514.5 1687.0,513.1 1687.7,512.4 1689.1,511.7 1691.9,511.7 1693.3,512.4 1694.0,513.1 1694.8,514.5 1694.8,515.9 1694.0,517.3 1692.6,519.5 1685.6,526.5 1695.5,526.5" stroke-width="2.6"/>
<path d="M1742.0,511.7 1749.8,511.7 1745.5,517.3 1747.7,517.3 1749.1,518.0 1749.8,518.7 1750.5,520.9 1750.5,522.3 1749.8,524.4 1748.4,525.8 1746.3,526.5 1744.1,526.5 1742.0,525.8 1741.3,525.1 1740.6,523.7" stroke-width="2.6"/>
<path d="M1858.5,289.6 1851.5,304.4M1848.7,289.6 1858.5,289.6" stroke-width="2.6"/>
<path d="M1911.6,289.6 1909.5,290.3 1908.8,291.7 1908.8,293.1 1909.5,294.5 1910.9,295.2 1913.7,295.9 1915.9,296.6 1917.3,298.1 1918.0,299.5 1918.0,301.6 1917.3,303.0 1916.6,303.7 1914.5,304.4 1911.6,304.4 1909.5,303.7 1908.8,303.0 1908.1,301.6 1908.1,299.5 1908.8,298.1 1910.2,296.6 1912.3,295.9 1915.2,295.2 1916.6,294.5 1917.3,293.1 1917.3,291.7 1916.6,290.3 1914.5,289.6 1911.6,289.6" stroke-width="2.6"/>
<path d="M1972.3,294.5 1971.6,296.6 1970.2,298.1 1968.1,298.8 1967.4,298.8 1965.2,298.1 1963.8,296.6 1963.1,294.5 1963.1,293.8 1963.8,291.7 1965.2,290.3 1967.4,289.6 1968.1,289.6 1970.2,290.3 1971.6,291.7 1972.3,294.5 1972.3,298.1 1971.6,301.6 1970.2,303.7 1968.1,304.4 1966.7,304.4 1964.5,303.7 1963.8,302.3" stroke-width="2.6"/>
<path d="M1855.7,363.5 1848.7,373.4 1859.3,373.4M1855.7,363.5 1855.7,378.3" stroke-width="2.6"/>
<path d="M1916.6,363.5 1909.5,363.5 1908.8,369.8 1909.5,369.1 1911.6,368.4 1913.7,368.4 1915.9,369.1 1917.3,370.5 1918.0,372.7 1918.0,374.1 1917.3,376.2 1915.9,377.6 1913.7,378.3 1911.6,378.3 1909.5,377.6 1908.8,376.9 1908.1,375.5" stroke-width="2.6"/>
<path d="M1972.3,365.6 1971.6,364.2 1969.5,363.5 1968.1,363.5 1966.0,364.2 1964.5,366.3 1963.8,369.8 1963.8,373.4 1964.5,376.2 1966.0,377.6 1968.1,378.3 1968.8,378.3 1970.9,377.6 1972.3,376.2 1973.0,374.1 1973.0,373.4 1972.3,371.2 1970.9,369.8 1968.8,369.1 1968.1,369.1 1966.0,369.8 1964.5,371.2 1963.8,373.4" stroke-width="2.6"/>
<path d="M1850.8,440.3 1852.2,439.6 1854.3,437.5 1854.3,452.3M1863.5,441.0 1863.5,440.3 1864.2,438.9 1864.9,438.2 1866.3,437.5 1869.1,437.5 1870.5,438.2 1871.2,438.9 1871.9,440.3 1871.9,441.7 1871.2,443.1 1869.8,445.2 1862.8,452.3 1872.6,452.3" stroke-width="2.6"/>
<path d="M1910.2,440.3 1911.6,439.6 1913.7,437.5 1913.7,452.3M1926.4,437.5 1924.3,438.2 1922.9,440.3 1922.2,443.8 1922.2,446.0 1922.9,449.5 1924.3,451.6 1926.4,452.3 1927.8,452.3 1930.0,451.6 1931.4,449.5 1932.1,446.0 1932.1,443.8 1931.4,440.3 1930.0,438.2 1927.8,437.5 1926.4,437.5" stroke-width="2.6"/>
<path d="M1965.2,440.3 1966.7,439.6 1968.8,437.5 1968.8,452.3M1979.3,440.3 1980.8,439.6 1982.9,437.5 1982.9,452.3" stroke-width="2.6"/>
<path d="M1850.8,514.5 1852.2,513.8 1854.3,511.7 1854.3,526.5" stroke-width="2.6"/>
<path d="M1908.8,515.2 1908.8,514.5 1909.5,513.1 1910.2,512.4 1911.6,511.7 1914.5,511.7 1915.9,512.4 1916.6,513.1 1917.3,514.5 1917.3,515.9 1916.6,517.3 1915.2,519.5 1908.1,526.5 1918.0,526.5" stroke-width="2.6"/>
<path d="M1964.5,511.7 1972.3,511.7 1968.1,517.3 1970.2,517.3 1971.6,518.0 1972.3,518.7 1973.0,520.9 1973.0,522.3 1972.3,524.4 1970.9,525.8 1968.8,526.5 1966.7,526.5 1964.5,525.8 1963.8,525.1 1963.1,523.7" stroke-width="2.6"/>
<path d="M1190.4,153.5 1190.4,183.9M1190.4,183.9 1207.7,183.9M1222.1,153.5 1219.2,155.0 1216.3,157.9 1214.9,160.7 1213.4,165.1 1213.4,172.3 1214.9,176.7 1216.3,179.6 1219.2,182.5 1222.1,183.9 1227.8,183.9 1230.7,182.5 1233.6,179.6 1235.1,176.7 1236.5,172.3 1236.5,165.1 1235.1,160.7 1233.6,157.9 1230.7,155.0 1227.8,153.5 1222.1,153.5M1243.7,153.5 1250.9,183.9M1258.1,153.5 1250.9,183.9M1258.1,153.5 1265.3,183.9M1272.5,153.5 1265.3,183.9" stroke-width="2.6"/>
<path d="M1306.1,153.5 1317.4,183.9M1328.7,153.5 1317.4,183.9M1342.8,153.5 1339.9,155.0 1337.1,157.9 1335.7,160.7 1334.3,165.1 1334.3,172.3 1335.7,176.7 1337.1,179.6 1339.9,182.5 1342.8,183.9 1348.4,183.9 1351.2,182.5 1354.0,179.6 1355.5,176.7 1356.9,172.3 1356.9,165.1 1355.5,160.7 1354.0,157.9 1351.2,155.0 1348.4,153.5 1342.8,153.5M1366.7,153.5 1366.7,183.9M1366.7,183.9 1383.7,183.9M1396.3,153.5 1396.3,183.9M1386.5,153.5 1406.2,153.5M1420.3,153.5 1409.0,183.9M1420.3,153.5 1431.6,183.9M1413.3,173.8 1427.4,173.8M1458.4,160.7 1457.0,157.9 1454.2,155.0 1451.3,153.5 1445.7,153.5 1442.9,155.0 1440.1,157.9 1438.7,160.7 1437.2,165.1 1437.2,172.3 1438.7,176.7 1440.1,179.6 1442.9,182.5 1445.7,183.9 1451.3,183.9 1454.2,182.5 1457.0,179.6 1458.4,176.7 1458.4,172.3M1451.3,172.3 1458.4,172.3M1468.3,153.5 1468.3,183.9M1468.3,153.5 1486.6,153.5M1468.3,168.0 1479.5,168.0M1468.3,183.9 1486.6,183.9" stroke-width="2.6"/>
<path d="M1626.6,153.5 1626.6,183.9M1646.8,153.5 1646.8,183.9M1626.6,168.0 1646.8,168.0M1658.3,153.5 1658.3,183.9M1690.0,160.7 1688.6,157.9 1685.7,155.0 1682.8,153.5 1677.1,153.5 1674.2,155.0 1671.3,157.9 1669.8,160.7 1668.4,165.1 1668.4,172.3 1669.8,176.7 1671.3,179.6 1674.2,182.5 1677.1,183.9 1682.8,183.9 1685.7,182.5 1688.6,179.6 1690.0,176.7 1690.0,172.3M1682.8,172.3 1690.0,172.3M1700.1,153.5 1700.1,183.9M1720.3,153.5 1720.3,183.9M1700.1,168.0 1720.3,168.0" stroke-width="2.6"/>
<path d="M1756.6,153.5 1767.9,183.9M1779.2,153.5 1767.9,183.9M1793.3,153.5 1790.5,155.0 1787.7,157.9 1786.3,160.7 1784.8,165.1 1784.8,172.3 1786.3,176.7 1787.7,179.6 1790.5,182.5 1793.3,183.9 1799.0,183.9 1801.8,182.5 1804.6,179.6 1806.0,176.7 1807.5,172.3 1807.5,165.1 1806.0,160.7 1804.6,157.9 1801.8,155.0 1799.0,153.5 1793.3,153.5M1817.3,153.5 1817.3,183.9M1817.3,183.9 1834.3,183.9M1847.0,153.5 1847.0,183.9M1837.1,153.5 1856.9,153.5M1871.0,153.5 1859.7,183.9M1871.0,153.5 1882.3,183.9M1864.0,173.8 1878.1,173.8M1909.2,160.7 1907.7,157.9 1904.9,155.0 1902.1,153.5 1896.4,153.5 1893.6,155.0 1890.8,157.9 1889.4,160.7 1888.0,165.1 1888.0,172.3 1889.4,176.7 1890.8,179.6 1893.6,182.5 1896.4,183.9 1902.1,183.9 1904.9,182.5 1907.7,179.6 1909.2,176.7 1909.2,172.3M1902.1,172.3 1909.2,172.3M1919.0,153.5 1919.0,183.9M1919.0,153.5 1937.4,153.5M1919.0,168.0 1930.3,168.0M1919.0,183.9 1937.4,183.9" stroke-width="2.6"/>
<path d="M1204.4,208.1 1203.0,206.7 1200.9,205.9 1198.1,205.9 1196.0,206.7 1194.6,208.1 1194.6,209.5 1195.3,210.9 1196.0,211.6 1197.4,212.4 1201.6,213.8 1203.0,214.5 1203.7,215.2 1204.4,216.6 1204.4,218.8 1203.0,220.2 1200.9,220.9 1198.1,220.9 1196.0,220.2 1194.6,218.8M1212.2,205.9 1212.2,220.9M1207.3,205.9 1217.1,205.9M1224.1,205.9 1218.5,220.9M1224.1,205.9 1229.8,220.9M1220.6,215.9 1227.7,215.9M1233.3,205.9 1233.3,220.9M1233.3,205.9 1239.6,205.9 1241.7,206.7 1242.4,207.4 1243.1,208.8 1243.1,210.2 1242.4,211.6 1241.7,212.4 1239.6,213.1 1233.3,213.1M1238.2,213.1 1243.1,220.9M1250.9,205.9 1250.9,220.9M1246.0,205.9 1255.8,205.9" stroke-width="2.8"/>
<path d="M1428.7,205.9 1428.7,220.9M1428.7,205.9 1435.2,205.9 1437.4,206.7 1438.1,207.4 1438.8,208.8 1438.8,210.2 1438.1,211.6 1437.4,212.4 1435.2,213.1 1428.7,213.1M1433.8,213.1 1438.8,220.9M1443.9,205.9 1443.9,216.6 1444.6,218.8 1446.0,220.2 1448.2,220.9 1449.7,220.9 1451.8,220.2 1453.3,218.8 1454.0,216.6 1454.0,205.9M1459.8,205.9 1459.8,220.9M1459.8,205.9 1469.9,220.9M1469.9,205.9 1469.9,220.9" stroke-width="2.8"/>
<path d="M1649.8,208.1 1648.4,206.7 1646.3,205.9 1643.5,205.9 1641.4,206.7 1640.0,208.1 1640.0,209.5 1640.7,210.9 1641.4,211.6 1642.8,212.4 1647.0,213.8 1648.4,214.5 1649.1,215.2 1649.8,216.6 1649.8,218.8 1648.4,220.2 1646.3,220.9 1643.5,220.9 1641.4,220.2 1640.0,218.8M1657.4,205.9 1657.4,220.9M1652.6,205.9 1662.3,205.9M1669.3,205.9 1663.7,220.9M1669.3,205.9 1674.9,220.9M1665.8,215.9 1672.8,215.9M1678.4,205.9 1678.4,220.9M1678.4,205.9 1684.7,205.9 1686.7,206.7 1687.4,207.4 1688.1,208.8 1688.1,210.2 1687.4,211.6 1686.7,212.4 1684.7,213.1 1678.4,213.1M1683.3,213.1 1688.1,220.9M1695.8,205.9 1695.8,220.9M1690.9,205.9 1700.7,205.9" stroke-width="2.8"/>
<path d="M1871.5,205.9 1871.5,220.9M1871.5,205.9 1878.0,205.9 1880.1,206.7 1880.8,207.4 1881.5,208.8 1881.5,210.2 1880.8,211.6 1880.1,212.4 1878.0,213.1 1871.5,213.1M1876.5,213.1 1881.5,220.9M1886.6,205.9 1886.6,216.6 1887.3,218.8 1888.7,220.2 1890.9,220.9 1892.3,220.9 1894.5,220.2 1895.9,218.8 1896.6,216.6 1896.6,205.9M1902.4,205.9 1902.4,220.9M1902.4,205.9 1912.4,220.9M1912.4,205.9 1912.4,220.9" stroke-width="2.8"/>
<path d="M1209.3,236.3 1207.9,237.7 1206.4,239.9 1205.0,242.7 1204.3,246.3 1204.3,249.1 1205.0,252.7 1206.4,255.5 1207.9,257.7 1209.3,259.1M1214.3,242.7 1214.3,242.0 1215.0,240.6 1215.7,239.9 1217.2,239.1 1220.0,239.1 1221.5,239.9 1222.2,240.6 1222.9,242.0 1222.9,243.4 1222.2,244.8 1220.8,247.0 1213.6,254.1 1223.6,254.1M1226.5,239.1 1232.2,246.3 1232.2,254.1M1237.9,239.1 1232.2,246.3M1240.8,236.3 1242.2,237.7 1243.7,239.9 1245.1,242.7 1245.8,246.3 1245.8,249.1 1245.1,252.7 1243.7,255.5 1242.2,257.7 1240.8,259.1" stroke-width="2.8"/>
<path d="M1432.0,236.3 1430.6,237.7 1429.2,239.9 1427.8,242.7 1427.1,246.3 1427.1,249.1 1427.8,252.7 1429.2,255.5 1430.6,257.7 1432.0,259.1M1436.9,242.7 1436.9,242.0 1437.6,240.6 1438.3,239.9 1439.7,239.1 1442.5,239.1 1443.9,239.9 1444.6,240.6 1445.3,242.0 1445.3,243.4 1444.6,244.8 1443.2,247.0 1436.2,254.1 1446.0,254.1M1451.0,239.1 1451.0,254.1M1451.0,239.1 1455.9,239.1 1458.0,239.9 1459.4,241.3 1460.1,242.7 1460.8,244.8 1460.8,248.4 1460.1,250.5 1459.4,252.0 1458.0,253.4 1455.9,254.1 1451.0,254.1M1465.0,236.3 1466.4,237.7 1467.8,239.9 1469.2,242.7 1469.9,246.3 1469.9,249.1 1469.2,252.7 1467.8,255.5 1466.4,257.7 1465.0,259.1" stroke-width="2.8"/>
<path d="M1654.2,236.3 1652.8,237.7 1651.4,239.9 1650.0,242.7 1649.3,246.3 1649.3,249.1 1650.0,252.7 1651.4,255.5 1652.8,257.7 1654.2,259.1M1660.6,242.0 1662.0,241.3 1664.1,239.1 1664.1,254.1M1671.2,239.1 1676.9,246.3 1676.9,254.1M1682.5,239.1 1676.9,246.3M1685.4,236.3 1686.8,237.7 1688.2,239.9 1689.6,242.7 1690.3,246.3 1690.3,249.1 1689.6,252.7 1688.2,255.5 1686.8,257.7 1685.4,259.1" stroke-width="2.8"/>
<path d="M1878.3,236.3 1876.9,237.7 1875.5,239.9 1874.1,242.7 1873.4,246.3 1873.4,249.1 1874.1,252.7 1875.5,255.5 1876.9,257.7 1878.3,259.1M1884.5,242.0 1885.9,241.3 1888.0,239.1 1888.0,254.1M1897.0,239.1 1897.0,254.1M1897.0,239.1 1901.8,239.1 1903.9,239.9 1905.3,241.3 1906.0,242.7 1906.7,244.8 1906.7,248.4 1906.0,250.5 1905.3,252.0 1903.9,253.4 1901.8,254.1 1897.0,254.1M1910.8,236.3 1912.2,237.7 1913.6,239.9 1915.0,242.7 1915.7,246.3 1915.7,249.1 1915.0,252.7 1913.6,255.5 1912.2,257.7 1910.8,259.1" stroke-width="2.8"/>
<path d="M1182.3,620.0 1182.3,654.3M1182.3,654.3 1201.5,654.3M1209.5,620.0 1209.5,654.3M1222.3,620.0 1222.3,654.3M1222.3,620.0 1244.8,654.3M1244.8,620.0 1244.8,654.3M1257.6,620.0 1257.6,654.3M1257.6,620.0 1278.4,620.0M1257.6,636.3 1270.4,636.3M1257.6,654.3 1278.4,654.3" stroke-width="2.6"/>
<path d="M1403.9,620.0 1403.9,654.3M1403.9,654.3 1423.3,654.3M1431.3,620.0 1431.3,654.3M1444.2,620.0 1444.2,654.3M1444.2,620.0 1466.8,654.3M1466.8,620.0 1466.8,654.3M1479.7,620.0 1479.7,654.3M1479.7,620.0 1500.7,620.0M1479.7,636.3 1492.6,636.3M1479.7,654.3 1500.7,654.3" stroke-width="2.6"/>
<path d="M1626.3,620.0 1626.3,654.3M1626.3,654.3 1645.7,654.3M1653.8,620.0 1653.8,654.3M1666.7,620.0 1666.7,654.3M1666.7,620.0 1689.3,654.3M1689.3,620.0 1689.3,654.3M1702.3,620.0 1702.3,654.3M1702.3,620.0 1723.3,620.0M1702.3,636.3 1715.2,636.3M1702.3,654.3 1723.3,654.3" stroke-width="2.6"/>
<path d="M1830.2,620.0 1830.2,654.3M1830.2,654.3 1849.5,654.3M1857.6,620.0 1857.6,654.3M1870.4,620.0 1870.4,654.3M1870.4,620.0 1893.0,654.3M1893.0,620.0 1893.0,654.3M1905.9,620.0 1905.9,654.3M1905.9,620.0 1926.8,620.0M1905.9,636.3 1918.7,636.3M1905.9,654.3 1926.8,654.3" stroke-width="2.6"/>
<path d="M572.4,214.8 573.8,214.1 576.0,211.9 576.0,226.9M585.3,220.5 598.2,220.5M603.9,211.9 603.9,226.9M603.9,211.9 610.3,211.9 612.5,212.7 613.2,213.4 613.9,214.8 613.9,216.2 613.2,217.6 612.5,218.4 610.3,219.1M603.9,219.1 610.3,219.1 612.5,219.8 613.2,220.5 613.9,221.9 613.9,224.1 613.2,225.5 612.5,226.2 610.3,226.9 603.9,226.9M618.9,211.9 618.9,226.9M618.9,226.9 627.5,226.9M631.1,211.9 631.1,222.6 631.8,224.8 633.2,226.2 635.4,226.9 636.8,226.9 639.0,226.2 640.4,224.8 641.1,222.6 641.1,211.9" stroke-width="2.8"/>
<path d="M522.1,407.8 515.1,417.8 525.6,417.8M522.1,407.8 522.1,422.8M529.8,416.4 542.5,416.4M546.0,407.8 551.6,415.0 551.6,422.8M557.2,407.8 551.6,415.0M560.7,407.8 560.7,422.8M560.7,407.8 569.9,407.8M560.7,415.0 566.4,415.0M560.7,422.8 569.9,422.8M574.1,407.8 574.1,422.8M574.1,422.8 582.5,422.8" stroke-width="2.8"/>
<path d="M519.7,481.2 512.6,496.2M509.8,481.2 519.7,481.2M524.7,489.8 537.4,489.8M543.1,481.2 543.1,496.2M543.1,481.2 549.4,481.2 551.6,482.0 552.3,482.7 553.0,484.1 553.0,486.2 552.3,487.7 551.6,488.4 549.4,489.1 543.1,489.1M557.9,481.2 557.9,496.2M557.9,481.2 567.8,496.2M567.8,481.2 567.8,496.2M573.5,481.2 573.5,496.2M583.4,481.2 573.5,491.2M577.0,487.7 583.4,496.2" stroke-width="2.8"/>
<path d="M583.4,682.3 584.9,681.6 587.1,679.4 587.1,694.4M600.2,679.4 598.0,680.2 596.6,682.3 595.8,685.9 595.8,688.0 596.6,691.6 598.0,693.7 600.2,694.4 601.7,694.4 603.9,693.7 605.4,691.6 606.1,688.0 606.1,685.9 605.4,682.3 603.9,680.2 601.7,679.4 600.2,679.4" stroke-width="2.8"/>
<path d="M544.0,762.3 545.4,761.6 547.5,759.4 547.5,774.4M556.5,763.0 556.5,762.3 557.2,760.9 557.9,760.2 559.3,759.4 562.1,759.4 563.5,760.2 564.2,760.9 564.9,762.3 564.9,763.7 564.2,765.1 562.8,767.3 555.8,774.4 565.6,774.4" stroke-width="2.8"/>
<path d="M633.0,760.5 634.4,759.8 636.6,757.6 636.6,772.6M647.4,760.5 648.8,759.8 651.0,757.6 651.0,772.6" stroke-width="2.8"/>
<path d="M1041.1,509.2 1041.1,520.6 1040.4,522.8 1039.7,523.5 1038.3,524.2 1036.9,524.2 1035.4,523.5 1034.7,522.8 1034.0,520.6 1034.0,519.2M1046.9,517.8 1059.7,517.8M1065.4,509.2 1065.4,524.2M1065.4,509.2 1071.8,509.2 1074.0,510.0 1074.7,510.7 1075.4,512.1 1075.4,513.5 1074.7,514.9 1074.0,515.7 1071.8,516.4M1065.4,516.4 1071.8,516.4 1074.0,517.1 1074.7,517.8 1075.4,519.2 1075.4,521.4 1074.7,522.8 1074.0,523.5 1071.8,524.2 1065.4,524.2M1080.4,509.2 1080.4,524.2M1080.4,509.2 1086.8,509.2 1089.0,510.0 1089.7,510.7 1090.4,512.1 1090.4,513.5 1089.7,514.9 1089.0,515.7 1086.8,516.4 1080.4,516.4M1085.4,516.4 1090.4,524.2M1095.4,509.2 1095.4,524.2M1095.4,509.2 1105.4,524.2M1105.4,509.2 1105.4,524.2" stroke-width="2.8"/>
<path d="M1041.1,776.6 1041.1,788.0 1040.4,790.2 1039.7,790.9 1038.3,791.6 1036.9,791.6 1035.4,790.9 1034.7,790.2 1034.0,788.0 1034.0,786.6M1046.9,785.2 1059.7,785.2M1065.4,776.6 1065.4,791.6M1065.4,776.6 1071.8,776.6 1074.0,777.4 1074.7,778.1 1075.4,779.5 1075.4,780.9 1074.7,782.3 1074.0,783.1 1071.8,783.8M1065.4,783.8 1071.8,783.8 1074.0,784.5 1074.7,785.2 1075.4,786.6 1075.4,788.8 1074.7,790.2 1074.0,790.9 1071.8,791.6 1065.4,791.6M1080.4,776.6 1080.4,791.6M1080.4,776.6 1086.8,776.6 1089.0,777.4 1089.7,778.1 1090.4,779.5 1090.4,780.9 1089.7,782.3 1089.0,783.1 1086.8,783.8 1080.4,783.8M1085.4,783.8 1090.4,791.6M1095.4,776.6 1095.4,791.6M1095.4,776.6 1105.4,791.6M1105.4,776.6 1105.4,791.6" stroke-width="2.8"/>
<path d="M832.6,609.6 831.2,610.4 829.8,611.8 829.1,613.2 828.4,615.3 828.4,618.9 829.1,621.0 829.8,622.5 831.2,623.9 832.6,624.6 835.4,624.6 836.8,623.9 838.2,622.5 838.9,621.0 839.6,618.9 839.6,615.3 838.9,613.2 838.2,611.8 836.8,610.4 835.4,609.6 832.6,609.6M844.5,609.6 844.5,624.6M844.5,609.6 850.9,609.6 853.0,610.4 853.7,611.1 854.4,612.5 854.4,614.6 853.7,616.1 853.0,616.8 850.9,617.5 844.5,617.5M862.1,609.6 862.1,624.6M857.2,609.6 867.0,609.6M870.5,609.6 870.5,624.6M879.7,609.6 878.2,610.4 876.8,611.8 876.1,613.2 875.4,615.3 875.4,618.9 876.1,621.0 876.8,622.5 878.2,623.9 879.7,624.6 882.5,624.6 883.9,623.9 885.3,622.5 886.0,621.0 886.7,618.9 886.7,615.3 886.0,613.2 885.3,611.8 883.9,610.4 882.5,609.6 879.7,609.6M891.6,609.6 891.6,624.6M891.6,609.6 901.4,624.6M901.4,609.6 901.4,624.6M910.5,609.6 904.9,624.6M910.5,609.6 916.2,624.6M907.0,619.6 914.1,619.6M919.7,609.6 919.7,624.6M919.7,624.6 928.1,624.6" stroke-width="2.8"/>
<path d="M809.4,639.1 809.4,654.1M804.5,639.1 814.3,639.1M817.9,639.1 817.9,654.1M827.7,639.1 827.7,654.1M817.9,646.3 827.7,646.3M833.3,639.1 833.3,654.1M833.3,639.1 842.5,639.1M833.3,646.3 838.9,646.3M833.3,654.1 842.5,654.1M846.7,639.1 846.7,654.1M846.7,639.1 853.0,639.1 855.1,639.9 855.8,640.6 856.5,642.0 856.5,643.4 855.8,644.8 855.1,645.6 853.0,646.3 846.7,646.3M851.6,646.3 856.5,654.1M861.4,639.1 861.4,654.1M861.4,639.1 867.1,654.1M872.7,639.1 867.1,654.1M872.7,639.1 872.7,654.1M881.8,639.1 880.4,639.9 879.0,641.3 878.3,642.7 877.6,644.8 877.6,648.4 878.3,650.5 879.0,652.0 880.4,653.4 881.8,654.1 884.6,654.1 886.0,653.4 887.4,652.0 888.1,650.5 888.8,648.4 888.8,644.8 888.1,642.7 887.4,641.3 886.0,639.9 884.6,639.1 881.8,639.1M902.9,641.3 901.5,639.9 899.4,639.1 896.6,639.1 894.5,639.9 893.1,641.3 893.1,642.7 893.8,644.1 894.5,644.8 895.9,645.6 900.1,647.0 901.5,647.7 902.2,648.4 902.9,649.8 902.9,652.0 901.5,653.4 899.4,654.1 896.6,654.1 894.5,653.4 893.1,652.0M910.6,639.1 910.6,654.1M905.7,639.1 915.6,639.1M922.6,639.1 917.0,654.1M922.6,639.1 928.2,654.1M919.1,649.1 926.1,649.1M934.5,639.1 934.5,654.1M929.6,639.1 939.4,639.1M952.1,641.3 950.7,639.9 948.6,639.1 945.8,639.1 943.7,639.9 942.3,641.3 942.3,642.7 943.0,644.1 943.7,644.8 945.1,645.6 949.3,647.0 950.7,647.7 951.4,648.4 952.1,649.8 952.1,652.0 950.7,653.4 948.6,654.1 945.8,654.1 943.7,653.4 942.3,652.0" stroke-width="2.8"/>
<path d="M306.6,860.1 305.8,862.3 304.4,863.7 302.3,864.4 301.6,864.4 299.5,863.7 298.1,862.3 297.4,860.1 297.4,859.4 298.1,857.3 299.5,855.9 301.6,855.1 302.3,855.1 304.4,855.9 305.8,857.3 306.6,860.1 306.6,863.7 305.8,867.3 304.4,869.4 302.3,870.1 300.9,870.1 298.8,869.4 298.1,868.0M312.2,863.7 324.9,863.7M340.3,858.7 339.6,857.3 338.2,855.9 336.8,855.1 334.0,855.1 332.6,855.9 331.2,857.3 330.5,858.7 329.8,860.8 329.8,864.4 330.5,866.5 331.2,868.0 332.6,869.4 334.0,870.1 336.8,870.1 338.2,869.4 339.6,868.0 340.3,866.5 340.3,864.4M336.8,864.4 340.3,864.4M345.3,855.1 345.3,870.1M345.3,855.1 351.6,855.1 353.7,855.9 354.4,856.6 355.1,858.0 355.1,859.4 354.4,860.8 353.7,861.6 351.6,862.3 345.3,862.3M350.2,862.3 355.1,870.1M357.9,855.1 363.6,862.3 363.6,870.1M369.2,855.1 363.6,862.3" stroke-width="2.8"/>
<path d="M255.9,878.6 255.2,877.2 253.0,876.4 251.6,876.4 249.5,877.2 248.1,879.3 247.4,882.9 247.4,886.4 248.1,889.3 249.5,890.7 251.6,891.4 252.3,891.4 254.5,890.7 255.9,889.3 256.6,887.1 256.6,886.4 255.9,884.3 254.5,882.9 252.3,882.1 251.6,882.1 249.5,882.9 248.1,884.3 247.4,886.4M261.5,885.0 274.2,885.0M279.9,876.4 279.9,891.4M279.9,876.4 286.2,876.4 288.3,877.2 289.0,877.9 289.8,879.3 289.8,881.4 289.0,882.9 288.3,883.6 286.2,884.3 279.9,884.3M294.7,876.4 294.7,891.4M294.7,876.4 301.0,876.4 303.2,877.2 303.9,877.9 304.6,879.3 304.6,880.7 303.9,882.1 303.2,882.9 301.0,883.6 294.7,883.6M299.6,883.6 304.6,891.4M309.5,876.4 309.5,891.4M309.5,876.4 315.9,876.4 318.0,877.2 318.7,877.9 319.4,879.3 319.4,881.4 318.7,882.9 318.0,883.6 315.9,884.3 309.5,884.3" stroke-width="2.8"/>
<path d="M78.2,997.2 85.9,997.2 81.7,1002.9 83.8,1002.9 85.2,1003.7 85.9,1004.4 86.6,1006.5 86.6,1007.9 85.9,1010.1 84.5,1011.5 82.4,1012.2 80.3,1012.2 78.2,1011.5 77.5,1010.8 76.8,1009.4M91.5,1005.8 104.2,1005.8M113.3,997.2 111.9,998.0 110.5,999.4 109.8,1000.8 109.1,1002.9 109.1,1006.5 109.8,1008.6 110.5,1010.1 111.9,1011.5 113.3,1012.2 116.1,1012.2 117.5,1011.5 118.9,1010.1 119.6,1008.6 120.3,1006.5 120.3,1002.9 119.6,1000.8 118.9,999.4 117.5,998.0 116.1,997.2 113.3,997.2M125.2,997.2 125.2,1012.2M125.2,997.2 131.6,997.2 133.7,998.0 134.4,998.7 135.1,1000.1 135.1,1001.5 134.4,1002.9 133.7,1003.7 131.6,1004.4 125.2,1004.4M130.1,1004.4 135.1,1012.2M149.8,1000.8 149.1,999.4 147.7,998.0 146.3,997.2 143.5,997.2 142.1,998.0 140.7,999.4 140.0,1000.8 139.3,1002.9 139.3,1006.5 140.0,1008.6 140.7,1010.1 142.1,1011.5 143.5,1012.2 146.3,1012.2 147.7,1011.5 149.1,1010.1 149.8,1008.6 149.8,1006.5M146.3,1006.5 149.8,1006.5" stroke-width="2.8"/>
<path d="M841.2,856.9 839.1,857.7 838.4,859.1 838.4,860.5 839.1,861.9 840.5,862.6 843.3,863.4 845.5,864.1 846.9,865.5 847.6,866.9 847.6,869.1 846.9,870.5 846.2,871.2 844.1,871.9 841.2,871.9 839.1,871.2 838.4,870.5 837.7,869.1 837.7,866.9 838.4,865.5 839.8,864.1 841.9,863.4 844.8,862.6 846.2,861.9 846.9,860.5 846.9,859.1 846.2,857.7 844.1,856.9 841.2,856.9M852.5,865.5 865.2,865.5M870.9,856.9 870.9,871.9M870.9,856.9 877.2,856.9 879.4,857.7 880.1,858.4 880.8,859.8 880.8,861.2 880.1,862.6 879.4,863.4 877.2,864.1 870.9,864.1M875.8,864.1 880.8,871.9M885.7,856.9 885.7,871.9M885.7,856.9 894.9,856.9M885.7,864.1 891.4,864.1M885.7,871.9 894.9,871.9M899.1,856.9 899.1,871.9M899.1,856.9 904.1,856.9 906.2,857.7 907.6,859.1 908.3,860.5 909.0,862.6 909.0,866.2 908.3,868.3 907.6,869.8 906.2,871.2 904.1,871.9 899.1,871.9" stroke-width="2.8"/>
<path d="M893.8,879.3 886.8,879.3 886.1,885.8 886.8,885.0 888.9,884.3 891.0,884.3 893.1,885.0 894.6,886.5 895.3,888.6 895.3,890.0 894.6,892.2 893.1,893.6 891.0,894.3 888.9,894.3 886.8,893.6 886.1,892.9 885.4,891.5M900.2,887.9 912.9,887.9M918.5,879.3 918.5,894.3M918.5,879.3 924.8,879.3 926.9,880.1 927.6,880.8 928.3,882.2 928.3,883.6 927.6,885.0 926.9,885.8 924.8,886.5M918.5,886.5 924.8,886.5 926.9,887.2 927.6,887.9 928.3,889.3 928.3,891.5 927.6,892.9 926.9,893.6 924.8,894.3 918.5,894.3M933.3,879.3 933.3,894.3M933.3,894.3 941.7,894.3M945.2,879.3 945.2,894.3M955.1,879.3 945.2,889.3M948.8,885.8 955.1,894.3" stroke-width="2.8"/>
<path d="M1044.2,1000.8 1044.2,1000.1 1044.9,998.7 1045.6,998.0 1047.0,997.2 1049.9,997.2 1051.3,998.0 1052.0,998.7 1052.7,1000.1 1052.7,1001.5 1052.0,1002.9 1050.6,1005.1 1043.5,1012.2 1053.4,1012.2M1058.3,1005.8 1071.0,1005.8M1075.3,997.2 1078.8,1012.2M1082.3,997.2 1078.8,1012.2M1082.3,997.2 1085.8,1012.2M1089.4,997.2 1085.8,1012.2M1093.6,997.2 1093.6,1012.2M1103.5,997.2 1103.5,1012.2M1093.6,1004.4 1103.5,1004.4M1112.0,997.2 1112.0,1012.2M1107.0,997.2 1116.9,997.2" stroke-width="2.8"/>
<path d="M1174.0,816.9 1174.0,831.9M1174.0,816.9 1184.0,831.9M1184.0,816.9 1184.0,831.9M1193.2,816.9 1191.8,817.7 1190.4,819.1 1189.6,820.5 1188.9,822.6 1188.9,826.2 1189.6,828.3 1190.4,829.8 1191.8,831.2 1193.2,831.9 1196.0,831.9 1197.5,831.2 1198.9,829.8 1199.6,828.3 1200.3,826.2 1200.3,822.6 1199.6,820.5 1198.9,819.1 1197.5,817.7 1196.0,816.9 1193.2,816.9M1208.1,816.9 1208.1,831.9M1203.1,816.9 1213.1,816.9M1216.7,816.9 1216.7,831.9M1216.7,816.9 1225.9,816.9M1216.7,824.1 1222.3,824.1M1216.7,831.9 1225.9,831.9M1239.4,819.1 1238.0,817.7 1235.8,816.9 1233.0,816.9 1230.9,817.7 1229.4,819.1 1229.4,820.5 1230.2,821.9 1230.9,822.6 1232.3,823.4 1236.6,824.8 1238.0,825.5 1238.7,826.2 1239.4,827.6 1239.4,829.8 1238.0,831.2 1235.8,831.9 1233.0,831.9 1230.9,831.2 1229.4,829.8M1245.1,821.9 1244.4,822.6 1245.1,823.4 1245.8,822.6 1245.1,821.9M1245.1,830.5 1244.4,831.2 1245.1,831.9 1245.8,831.2 1245.1,830.5" stroke-width="2.8"/>
<path d="M1175.3,860.5 1176.7,859.8 1178.8,857.6 1178.8,872.6M1188.7,871.2 1188.0,871.9 1188.7,872.6 1189.4,871.9 1188.7,871.2M1209.9,857.6 1209.9,872.6M1215.5,857.6 1215.5,872.6M1215.5,857.6 1225.4,872.6M1225.4,857.6 1225.4,872.6M1233.9,857.6 1233.9,872.6M1228.9,857.6 1238.8,857.6M1242.4,857.6 1242.4,872.6M1242.4,857.6 1251.5,857.6M1242.4,864.8 1248.0,864.8M1242.4,872.6 1251.5,872.6M1255.8,857.6 1255.8,872.6M1255.8,857.6 1262.1,857.6 1264.2,858.4 1264.9,859.1 1265.6,860.5 1265.6,861.9 1264.9,863.3 1264.2,864.1 1262.1,864.8 1255.8,864.8M1260.7,864.8 1265.6,872.6M1280.5,861.2 1279.8,859.8 1278.4,858.4 1276.9,857.6 1274.1,857.6 1272.7,858.4 1271.3,859.8 1270.6,861.2 1269.9,863.3 1269.9,866.9 1270.6,869.0 1271.3,870.5 1272.7,871.9 1274.1,872.6 1276.9,872.6 1278.4,871.9 1279.8,870.5 1280.5,869.0M1285.4,857.6 1285.4,872.6M1295.3,857.6 1295.3,872.6M1285.4,864.8 1295.3,864.8M1304.5,857.6 1298.8,872.6M1304.5,857.6 1310.1,872.6M1300.9,867.6 1308.0,867.6M1313.6,857.6 1313.6,872.6M1313.6,857.6 1323.5,872.6M1323.5,857.6 1323.5,872.6M1339.1,861.2 1338.4,859.8 1336.9,858.4 1335.5,857.6 1332.7,857.6 1331.3,858.4 1329.9,859.8 1329.2,861.2 1328.5,863.3 1328.5,866.9 1329.2,869.0 1329.9,870.5 1331.3,871.9 1332.7,872.6 1335.5,872.6 1336.9,871.9 1338.4,870.5 1339.1,869.0 1339.1,866.9M1335.5,866.9 1339.1,866.9M1344.0,857.6 1344.0,872.6M1344.0,857.6 1353.2,857.6M1344.0,864.8 1349.6,864.8M1344.0,872.6 1353.2,872.6M1375.8,857.6 1370.1,872.6M1375.8,857.6 1381.4,872.6M1372.2,867.6 1379.3,867.6M1384.9,857.6 1384.9,872.6M1384.9,857.6 1394.8,872.6M1394.8,857.6 1394.8,872.6M1398.3,857.6 1404.0,864.8 1404.0,872.6M1409.6,857.6 1404.0,864.8M1430.8,857.6 1430.8,872.6M1425.9,857.6 1435.8,857.6M1437.9,857.6 1441.4,872.6M1444.9,857.6 1441.4,872.6M1444.9,857.6 1448.5,872.6M1452.0,857.6 1448.5,872.6M1459.8,857.6 1458.3,858.4 1456.9,859.8 1456.2,861.2 1455.5,863.3 1455.5,866.9 1456.2,869.0 1456.9,870.5 1458.3,871.9 1459.8,872.6 1462.6,872.6 1464.0,871.9 1465.4,870.5 1466.1,869.0 1466.8,866.9 1466.8,863.3 1466.1,861.2 1465.4,859.8 1464.0,858.4 1462.6,857.6 1459.8,857.6M1486.6,857.6 1486.6,872.6M1486.6,872.6 1495.1,872.6M1498.6,857.6 1498.6,872.6M1504.2,857.6 1504.2,872.6M1504.2,857.6 1514.1,872.6M1514.1,857.6 1514.1,872.6M1519.8,857.6 1519.8,872.6M1519.8,857.6 1528.9,857.6M1519.8,864.8 1525.4,864.8M1519.8,872.6 1528.9,872.6M1548.0,857.6 1548.0,872.6M1548.0,872.6 1556.5,872.6M1560.0,857.6 1560.0,872.6M1560.0,857.6 1569.2,857.6M1560.0,864.8 1565.6,864.8M1560.0,872.6 1569.2,872.6M1576.9,857.6 1571.3,872.6M1576.9,857.6 1582.6,872.6M1573.4,867.6 1580.5,867.6M1586.1,857.6 1586.1,872.6M1586.1,857.6 1591.0,857.6 1593.2,858.4 1594.6,859.8 1595.3,861.2 1596.0,863.3 1596.0,866.9 1595.3,869.0 1594.6,870.5 1593.2,871.9 1591.0,872.6 1586.1,872.6M1610.1,859.8 1608.7,858.4 1606.6,857.6 1603.8,857.6 1601.6,858.4 1600.2,859.8 1600.2,861.2 1600.9,862.6 1601.6,863.3 1603.0,864.1 1607.3,865.5 1608.7,866.2 1609.4,866.9 1610.1,868.3 1610.1,870.5 1608.7,871.9 1606.6,872.6 1603.8,872.6 1601.6,871.9 1600.2,870.5M1632.7,857.6 1632.7,872.6M1627.8,857.6 1637.6,857.6M1644.7,857.6 1643.3,858.4 1641.9,859.8 1641.2,861.2 1640.5,863.3 1640.5,866.9 1641.2,869.0 1641.9,870.5 1643.3,871.9 1644.7,872.6 1647.5,872.6 1648.9,871.9 1650.3,870.5 1651.0,869.0 1651.8,866.9 1651.8,863.3 1651.0,861.2 1650.3,859.8 1648.9,858.4 1647.5,857.6 1644.7,857.6M1671.5,857.6 1671.5,872.6M1671.5,857.6 1677.9,857.6 1680.0,858.4 1680.7,859.1 1681.4,860.5 1681.4,861.9 1680.7,863.3 1680.0,864.1 1677.9,864.8 1671.5,864.8M1676.5,864.8 1681.4,872.6M1686.3,857.6 1686.3,872.6M1686.3,857.6 1695.5,857.6M1686.3,864.8 1692.0,864.8M1686.3,872.6 1695.5,872.6M1697.6,857.6 1703.3,872.6M1708.9,857.6 1703.3,872.6M1712.5,857.6 1712.5,872.6M1712.5,857.6 1721.6,857.6M1712.5,864.8 1718.1,864.8M1712.5,872.6 1721.6,872.6M1725.9,857.6 1725.9,872.6M1725.9,857.6 1732.2,857.6 1734.3,858.4 1735.0,859.1 1735.7,860.5 1735.7,861.9 1735.0,863.3 1734.3,864.1 1732.2,864.8 1725.9,864.8M1730.8,864.8 1735.7,872.6M1749.9,859.8 1748.5,858.4 1746.3,857.6 1743.5,857.6 1741.4,858.4 1740.0,859.8 1740.0,861.2 1740.7,862.6 1741.4,863.3 1742.8,864.1 1747.0,865.5 1748.5,866.2 1749.2,866.9 1749.9,868.3 1749.9,870.5 1748.5,871.9 1746.3,872.6 1743.5,872.6 1741.4,871.9 1740.0,870.5M1754.8,857.6 1754.8,872.6M1754.8,857.6 1764.0,857.6M1754.8,864.8 1760.5,864.8M1754.8,872.6 1764.0,872.6M1783.0,857.6 1783.0,872.6M1783.0,857.6 1789.4,857.6 1791.5,858.4 1792.2,859.1 1792.9,860.5 1792.9,861.9 1792.2,863.3 1791.5,864.1 1789.4,864.8 1783.0,864.8M1788.0,864.8 1792.9,872.6M1801.4,857.6 1800.0,858.4 1798.6,859.8 1797.9,861.2 1797.2,863.3 1797.2,866.9 1797.9,869.0 1798.6,870.5 1800.0,871.9 1801.4,872.6 1804.2,872.6 1805.6,871.9 1807.0,870.5 1807.7,869.0 1808.5,866.9 1808.5,863.3 1807.7,861.2 1807.0,859.8 1805.6,858.4 1804.2,857.6 1801.4,857.6M1816.2,857.6 1816.2,872.6M1811.3,857.6 1821.2,857.6M1828.2,857.6 1822.6,872.6M1828.2,857.6 1833.9,872.6M1824.7,867.6 1831.7,867.6M1840.2,857.6 1840.2,872.6M1835.3,857.6 1845.2,857.6M1848.7,857.6 1848.7,872.6M1857.9,857.6 1856.4,858.4 1855.0,859.8 1854.3,861.2 1853.6,863.3 1853.6,866.9 1854.3,869.0 1855.0,870.5 1856.4,871.9 1857.9,872.6 1860.7,872.6 1862.1,871.9 1863.5,870.5 1864.2,869.0 1864.9,866.9 1864.9,863.3 1864.2,861.2 1863.5,859.8 1862.1,858.4 1860.7,857.6 1857.9,857.6M1869.9,857.6 1869.9,872.6M1869.9,857.6 1879.7,872.6M1879.7,857.6 1879.7,872.6M1886.1,871.2 1885.4,871.9 1886.1,872.6 1886.8,871.9 1886.1,871.2" stroke-width="2.8"/>
<path d="M1174.7,897.4 1174.7,896.7 1175.4,895.3 1176.1,894.6 1177.5,893.8 1180.3,893.8 1181.8,894.6 1182.5,895.3 1183.2,896.7 1183.2,898.1 1182.5,899.5 1181.1,901.7 1174.0,908.8 1183.9,908.8M1189.5,907.4 1188.8,908.1 1189.5,908.8 1190.2,908.1 1189.5,907.4M1214.2,893.8 1212.8,894.6 1211.4,896.0 1210.7,897.4 1210.0,899.5 1210.0,903.1 1210.7,905.2 1211.4,906.7 1212.8,908.1 1214.2,908.8 1217.0,908.8 1218.4,908.1 1219.8,906.7 1220.5,905.2 1221.3,903.1 1221.3,899.5 1220.5,897.4 1219.8,896.0 1218.4,894.6 1217.0,893.8 1214.2,893.8M1226.2,893.8 1226.2,908.8M1226.2,893.8 1232.5,893.8 1234.7,894.6 1235.4,895.3 1236.1,896.7 1236.1,898.8 1235.4,900.3 1234.7,901.0 1232.5,901.7 1226.2,901.7M1243.8,893.8 1243.8,908.8M1238.9,893.8 1248.8,893.8M1252.3,893.8 1252.3,908.8M1261.5,893.8 1260.0,894.6 1258.6,896.0 1257.9,897.4 1257.2,899.5 1257.2,903.1 1257.9,905.2 1258.6,906.7 1260.0,908.1 1261.5,908.8 1264.3,908.8 1265.7,908.1 1267.1,906.7 1267.8,905.2 1268.5,903.1 1268.5,899.5 1267.8,897.4 1267.1,896.0 1265.7,894.6 1264.3,893.8 1261.5,893.8M1273.4,893.8 1273.4,908.8M1273.4,893.8 1283.3,908.8M1283.3,893.8 1283.3,908.8M1292.5,893.8 1286.8,908.8M1292.5,893.8 1298.1,908.8M1289.0,903.8 1296.0,903.8M1301.7,893.8 1301.7,908.8M1301.7,908.8 1310.1,908.8M1331.3,893.8 1331.3,908.8M1326.3,893.8 1336.2,893.8M1339.7,893.8 1339.7,908.8M1349.6,893.8 1349.6,908.8M1339.7,901.0 1349.6,901.0M1355.3,893.8 1355.3,908.8M1355.3,893.8 1364.4,893.8M1355.3,901.0 1360.9,901.0M1355.3,908.8 1364.4,908.8M1368.7,893.8 1368.7,908.8M1368.7,893.8 1375.0,893.8 1377.1,894.6 1377.8,895.3 1378.5,896.7 1378.5,898.1 1377.8,899.5 1377.1,900.3 1375.0,901.0 1368.7,901.0M1373.6,901.0 1378.5,908.8M1383.5,893.8 1383.5,908.8M1383.5,893.8 1389.1,908.8M1394.7,893.8 1389.1,908.8M1394.7,893.8 1394.7,908.8M1403.9,893.8 1402.5,894.6 1401.1,896.0 1400.4,897.4 1399.7,899.5 1399.7,903.1 1400.4,905.2 1401.1,906.7 1402.5,908.1 1403.9,908.8 1406.7,908.8 1408.1,908.1 1409.6,906.7 1410.3,905.2 1411.0,903.1 1411.0,899.5 1410.3,897.4 1409.6,896.0 1408.1,894.6 1406.7,893.8 1403.9,893.8M1425.1,896.0 1423.7,894.6 1421.5,893.8 1418.7,893.8 1416.6,894.6 1415.2,896.0 1415.2,897.4 1415.9,898.8 1416.6,899.5 1418.0,900.3 1422.3,901.7 1423.7,902.4 1424.4,903.1 1425.1,904.5 1425.1,906.7 1423.7,908.1 1421.5,908.8 1418.7,908.8 1416.6,908.1 1415.2,906.7M1432.8,893.8 1432.8,908.8M1427.9,893.8 1437.8,893.8M1444.8,893.8 1439.2,908.8M1444.8,893.8 1450.5,908.8M1441.3,903.8 1448.3,903.8M1456.8,893.8 1456.8,908.8M1451.9,893.8 1461.7,893.8M1474.4,896.0 1473.0,894.6 1470.9,893.8 1468.1,893.8 1466.0,894.6 1464.6,896.0 1464.6,897.4 1465.3,898.8 1466.0,899.5 1467.4,900.3 1471.6,901.7 1473.0,902.4 1473.7,903.1 1474.4,904.5 1474.4,906.7 1473.0,908.1 1470.9,908.8 1468.1,908.8 1466.0,908.1 1464.6,906.7M1497.7,893.8 1492.1,908.8M1497.7,893.8 1503.4,908.8M1494.2,903.8 1501.2,903.8M1506.9,893.8 1506.9,908.8M1506.9,893.8 1513.2,893.8 1515.3,894.6 1516.1,895.3 1516.8,896.7 1516.8,898.1 1516.1,899.5 1515.3,900.3 1513.2,901.0 1506.9,901.0M1511.8,901.0 1516.8,908.8M1521.7,893.8 1521.7,908.8M1521.7,893.8 1530.9,893.8M1521.7,901.0 1527.3,901.0M1521.7,908.8 1530.9,908.8M1549.9,893.8 1549.9,908.8M1549.9,893.8 1556.2,893.8 1558.4,894.6 1559.1,895.3 1559.8,896.7 1559.8,898.8 1559.1,900.3 1558.4,901.0 1556.2,901.7 1549.9,901.7M1564.7,893.8 1564.7,908.8M1564.7,893.8 1571.1,893.8 1573.2,894.6 1573.9,895.3 1574.6,896.7 1574.6,898.1 1573.9,899.5 1573.2,900.3 1571.1,901.0 1564.7,901.0M1569.6,901.0 1574.6,908.8M1583.0,893.8 1581.6,894.6 1580.2,896.0 1579.5,897.4 1578.8,899.5 1578.8,903.1 1579.5,905.2 1580.2,906.7 1581.6,908.1 1583.0,908.8 1585.9,908.8 1587.3,908.1 1588.7,906.7 1589.4,905.2 1590.1,903.1 1590.1,899.5 1589.4,897.4 1588.7,896.0 1587.3,894.6 1585.9,893.8 1583.0,893.8M1592.9,893.8 1598.6,908.8M1604.2,893.8 1598.6,908.8M1607.7,893.8 1607.7,908.8M1613.4,893.8 1613.4,908.8M1613.4,893.8 1618.3,893.8 1620.4,894.6 1621.8,896.0 1622.5,897.4 1623.2,899.5 1623.2,903.1 1622.5,905.2 1621.8,906.7 1620.4,908.1 1618.3,908.8 1613.4,908.8M1628.2,893.8 1628.2,908.8M1628.2,893.8 1637.4,893.8M1628.2,901.0 1633.8,901.0M1628.2,908.8 1637.4,908.8M1641.6,893.8 1641.6,908.8M1641.6,893.8 1646.5,893.8 1648.6,894.6 1650.0,896.0 1650.8,897.4 1651.5,899.5 1651.5,903.1 1650.8,905.2 1650.0,906.7 1648.6,908.1 1646.5,908.8 1641.6,908.8M1669.8,893.8 1673.3,908.8M1676.8,893.8 1673.3,908.8M1676.8,893.8 1680.4,908.8M1683.9,893.8 1680.4,908.8M1688.1,893.8 1688.1,908.8M1698.0,893.8 1698.0,908.8M1688.1,901.0 1698.0,901.0M1703.6,893.8 1703.6,908.8M1703.6,893.8 1712.8,893.8M1703.6,901.0 1709.3,901.0M1703.6,908.8 1712.8,908.8M1717.0,893.8 1717.0,908.8M1717.0,893.8 1726.9,908.8M1726.9,893.8 1726.9,908.8M1756.5,896.0 1755.1,894.6 1753.0,893.8 1750.2,893.8 1748.1,894.6 1746.7,896.0 1746.7,897.4 1747.4,898.8 1748.1,899.5 1749.5,900.3 1753.7,901.7 1755.1,902.4 1755.8,903.1 1756.5,904.5 1756.5,906.7 1755.1,908.1 1753.0,908.8 1750.2,908.8 1748.1,908.1 1746.7,906.7M1761.5,893.8 1761.5,908.8M1761.5,893.8 1767.8,893.8 1769.9,894.6 1770.6,895.3 1771.4,896.7 1771.4,898.8 1770.6,900.3 1769.9,901.0 1767.8,901.7 1761.5,901.7M1776.3,893.8 1776.3,908.8M1776.3,893.8 1785.5,893.8M1776.3,901.0 1781.9,901.0M1776.3,908.8 1785.5,908.8M1799.6,897.4 1798.9,896.0 1797.4,894.6 1796.0,893.8 1793.2,893.8 1791.8,894.6 1790.4,896.0 1789.7,897.4 1789.0,899.5 1789.0,903.1 1789.7,905.2 1790.4,906.7 1791.8,908.1 1793.2,908.8 1796.0,908.8 1797.4,908.1 1798.9,906.7 1799.6,905.2M1804.5,893.8 1804.5,908.8M1810.1,893.8 1810.1,908.8M1810.1,893.8 1819.3,893.8M1810.1,901.0 1815.8,901.0M1822.8,893.8 1822.8,908.8M1828.5,893.8 1828.5,908.8M1828.5,893.8 1837.6,893.8M1828.5,901.0 1834.1,901.0M1828.5,908.8 1837.6,908.8M1841.9,893.8 1841.9,908.8M1841.9,893.8 1846.8,893.8 1848.9,894.6 1850.3,896.0 1851.0,897.4 1851.8,899.5 1851.8,903.1 1851.0,905.2 1850.3,906.7 1848.9,908.1 1846.8,908.8 1841.9,908.8M1857.4,907.4 1856.7,908.1 1857.4,908.8 1858.1,908.1 1857.4,907.4" stroke-width="2.8"/>
<path d="M1175.4,924.1 1183.2,924.1 1178.9,929.8 1181.1,929.8 1182.5,930.6 1183.2,931.3 1183.9,933.4 1183.9,934.8 1183.2,937.0 1181.8,938.4 1179.6,939.1 1177.5,939.1 1175.4,938.4 1174.7,937.7 1174.0,936.3M1189.5,937.7 1188.8,938.4 1189.5,939.1 1190.2,938.4 1189.5,937.7M1214.2,924.1 1208.6,939.1M1214.2,924.1 1219.8,939.1M1210.7,934.1 1217.7,934.1M1233.2,927.7 1232.5,926.3 1231.1,924.9 1229.7,924.1 1226.9,924.1 1225.5,924.9 1224.1,926.3 1223.4,927.7 1222.7,929.8 1222.7,933.4 1223.4,935.5 1224.1,937.0 1225.5,938.4 1226.9,939.1 1229.7,939.1 1231.1,938.4 1232.5,937.0 1233.2,935.5M1241.0,924.1 1241.0,939.1M1236.1,924.1 1245.9,924.1M1249.5,924.1 1249.5,934.8 1250.2,937.0 1251.6,938.4 1253.7,939.1 1255.1,939.1 1257.2,938.4 1258.6,937.0 1259.3,934.8 1259.3,924.1M1268.5,924.1 1262.9,939.1M1268.5,924.1 1274.1,939.1M1265.0,934.1 1272.0,934.1M1277.7,924.1 1277.7,939.1M1277.7,939.1 1286.1,939.1M1304.5,924.1 1304.5,939.1M1304.5,924.1 1314.3,939.1M1314.3,924.1 1314.3,939.1M1320.0,924.1 1320.0,934.8 1320.7,937.0 1322.1,938.4 1324.2,939.1 1325.6,939.1 1327.7,938.4 1329.1,937.0 1329.8,934.8 1329.8,924.1M1335.5,924.1 1335.5,939.1M1335.5,924.1 1341.1,939.1M1346.8,924.1 1341.1,939.1M1346.8,924.1 1346.8,939.1M1352.4,924.1 1352.4,939.1M1352.4,924.1 1358.8,924.1 1360.9,924.9 1361.6,925.6 1362.3,927.0 1362.3,928.4 1361.6,929.8 1360.9,930.6 1358.8,931.3M1352.4,931.3 1358.8,931.3 1360.9,932.0 1361.6,932.7 1362.3,934.1 1362.3,936.3 1361.6,937.7 1360.9,938.4 1358.8,939.1 1352.4,939.1M1367.2,924.1 1367.2,939.1M1367.2,924.1 1376.4,924.1M1367.2,931.3 1372.9,931.3M1367.2,939.1 1376.4,939.1M1380.6,924.1 1380.6,939.1M1380.6,924.1 1387.0,924.1 1389.1,924.9 1389.8,925.6 1390.5,927.0 1390.5,928.4 1389.8,929.8 1389.1,930.6 1387.0,931.3 1380.6,931.3M1385.6,931.3 1390.5,939.1M1413.8,924.1 1412.4,924.9 1410.9,926.3 1410.2,927.7 1409.5,929.8 1409.5,933.4 1410.2,935.5 1410.9,937.0 1412.4,938.4 1413.8,939.1 1416.6,939.1 1418.0,938.4 1419.4,937.0 1420.1,935.5 1420.8,933.4 1420.8,929.8 1420.1,927.7 1419.4,926.3 1418.0,924.9 1416.6,924.1 1413.8,924.1M1425.8,924.1 1425.8,939.1M1425.8,924.1 1434.9,924.1M1425.8,931.3 1431.4,931.3M1453.3,924.1 1453.3,939.1M1458.9,924.1 1458.9,939.1M1458.9,924.1 1468.8,939.1M1468.8,924.1 1468.8,939.1M1477.2,924.1 1477.2,939.1M1472.3,924.1 1482.2,924.1M1485.7,924.1 1485.7,939.1M1485.7,924.1 1494.9,924.1M1485.7,931.3 1491.3,931.3M1485.7,939.1 1494.9,939.1M1499.1,924.1 1499.1,939.1M1499.1,924.1 1505.4,924.1 1507.6,924.9 1508.3,925.6 1509.0,927.0 1509.0,928.4 1508.3,929.8 1507.6,930.6 1505.4,931.3 1499.1,931.3M1504.0,931.3 1509.0,939.1M1513.9,924.1 1513.9,939.1M1513.9,924.1 1523.8,939.1M1523.8,924.1 1523.8,939.1M1532.9,924.1 1527.3,939.1M1532.9,924.1 1538.6,939.1M1529.4,934.1 1536.5,934.1M1542.1,924.1 1542.1,939.1M1542.1,939.1 1550.6,939.1M1568.9,924.1 1568.9,939.1M1568.9,924.1 1575.2,924.1 1577.4,924.9 1578.1,925.6 1578.8,927.0 1578.8,929.1 1578.1,930.6 1577.4,931.3 1575.2,932.0 1568.9,932.0M1587.2,924.1 1581.6,939.1M1587.2,924.1 1592.9,939.1M1583.7,934.1 1590.8,934.1M1596.4,924.1 1596.4,939.1M1596.4,924.1 1602.8,924.1 1604.9,924.9 1605.6,925.6 1606.3,927.0 1606.3,928.4 1605.6,929.8 1604.9,930.6 1602.8,931.3 1596.4,931.3M1601.3,931.3 1606.3,939.1M1614.7,924.1 1609.1,939.1M1614.7,924.1 1620.4,939.1M1611.2,934.1 1618.3,934.1M1623.9,924.1 1623.9,939.1M1623.9,939.1 1632.4,939.1M1635.9,924.1 1635.9,939.1M1635.9,939.1 1644.4,939.1M1647.9,924.1 1647.9,939.1M1647.9,924.1 1657.0,924.1M1647.9,931.3 1653.5,931.3M1647.9,939.1 1657.0,939.1M1661.3,924.1 1661.3,939.1M1661.3,939.1 1669.7,939.1M1698.0,927.7 1697.2,926.3 1695.8,924.9 1694.4,924.1 1691.6,924.1 1690.2,924.9 1688.8,926.3 1688.1,927.7 1687.4,929.8 1687.4,933.4 1688.1,935.5 1688.8,937.0 1690.2,938.4 1691.6,939.1 1694.4,939.1 1695.8,938.4 1697.2,937.0 1698.0,935.5M1702.9,924.1 1702.9,939.1M1708.5,924.1 1708.5,939.1M1708.5,924.1 1714.9,924.1 1717.0,924.9 1717.7,925.6 1718.4,927.0 1718.4,928.4 1717.7,929.8 1717.0,930.6 1714.9,931.3 1708.5,931.3M1713.5,931.3 1718.4,939.1M1733.2,927.7 1732.5,926.3 1731.1,924.9 1729.7,924.1 1726.9,924.1 1725.5,924.9 1724.0,926.3 1723.3,927.7 1722.6,929.8 1722.6,933.4 1723.3,935.5 1724.0,937.0 1725.5,938.4 1726.9,939.1 1729.7,939.1 1731.1,938.4 1732.5,937.0 1733.2,935.5M1738.1,924.1 1738.1,934.8 1738.9,937.0 1740.3,938.4 1742.4,939.1 1743.8,939.1 1745.9,938.4 1747.3,937.0 1748.0,934.8 1748.0,924.1M1753.7,924.1 1753.7,939.1M1762.1,924.1 1762.1,939.1M1757.2,924.1 1767.1,924.1M1779.8,926.3 1778.3,924.9 1776.2,924.1 1773.4,924.1 1771.3,924.9 1769.9,926.3 1769.9,927.7 1770.6,929.1 1771.3,929.8 1772.7,930.6 1776.9,932.0 1778.3,932.7 1779.0,933.4 1779.8,934.8 1779.8,937.0 1778.3,938.4 1776.2,939.1 1773.4,939.1 1771.3,938.4 1769.9,937.0M1799.5,924.1 1799.5,939.1M1799.5,924.1 1805.1,939.1M1810.8,924.1 1805.1,939.1M1810.8,924.1 1810.8,939.1M1819.9,924.1 1814.3,939.1M1819.9,924.1 1825.6,939.1M1816.4,934.1 1823.5,934.1M1827.0,924.1 1832.6,931.3 1832.6,939.1M1838.3,924.1 1832.6,931.3M1856.6,924.1 1856.6,939.1M1856.6,924.1 1863.0,924.1 1865.1,924.9 1865.8,925.6 1866.5,927.0 1866.5,928.4 1865.8,929.8 1865.1,930.6 1863.0,931.3M1856.6,931.3 1863.0,931.3 1865.1,932.0 1865.8,932.7 1866.5,934.1 1866.5,936.3 1865.8,937.7 1865.1,938.4 1863.0,939.1 1856.6,939.1M1871.4,924.1 1871.4,939.1M1871.4,924.1 1880.6,924.1M1871.4,931.3 1877.1,931.3M1871.4,939.1 1880.6,939.1M1903.2,924.1 1897.5,939.1M1903.2,924.1 1908.8,939.1M1899.6,934.1 1906.7,934.1" stroke-width="2.8"/>
<path d="M1218.9,947.3 1218.9,962.3M1218.9,947.3 1224.5,962.3M1230.2,947.3 1224.5,962.3M1230.2,947.3 1230.2,962.3M1235.8,947.3 1235.8,958.0 1236.5,960.2 1237.9,961.6 1240.0,962.3 1241.4,962.3 1243.6,961.6 1245.0,960.2 1245.7,958.0 1245.7,947.3M1251.3,947.3 1251.3,962.3M1251.3,962.3 1259.8,962.3M1266.1,947.3 1266.1,962.3M1261.2,947.3 1271.0,947.3M1274.6,947.3 1274.6,962.3M1280.2,947.3 1280.2,962.3M1280.2,947.3 1286.5,947.3 1288.6,948.1 1289.4,948.8 1290.1,950.2 1290.1,952.3 1289.4,953.8 1288.6,954.5 1286.5,955.2 1280.2,955.2M1295.0,947.3 1295.0,962.3M1295.0,962.3 1303.4,962.3M1307.0,947.3 1307.0,962.3M1307.0,947.3 1316.1,947.3M1307.0,954.5 1312.6,954.5M1307.0,962.3 1316.1,962.3M1338.7,947.3 1337.3,948.1 1335.8,949.5 1335.1,950.9 1334.4,953.0 1334.4,956.6 1335.1,958.7 1335.8,960.2 1337.3,961.6 1338.7,962.3 1341.5,962.3 1342.9,961.6 1344.3,960.2 1345.0,958.7 1345.7,956.6 1345.7,953.0 1345.0,950.9 1344.3,949.5 1342.9,948.1 1341.5,947.3 1338.7,947.3M1350.6,947.3 1350.6,962.3M1350.6,947.3 1359.8,947.3M1350.6,954.5 1356.3,954.5M1380.9,947.3 1380.9,962.3M1376.0,947.3 1385.9,947.3M1389.4,947.3 1389.4,962.3M1399.3,947.3 1399.3,962.3M1389.4,954.5 1399.3,954.5M1408.4,947.3 1407.0,948.1 1405.6,949.5 1404.9,950.9 1404.2,953.0 1404.2,956.6 1404.9,958.7 1405.6,960.2 1407.0,961.6 1408.4,962.3 1411.2,962.3 1412.6,961.6 1414.0,960.2 1414.8,958.7 1415.5,956.6 1415.5,953.0 1414.8,950.9 1414.0,949.5 1412.6,948.1 1411.2,947.3 1408.4,947.3M1429.5,949.5 1428.1,948.1 1426.0,947.3 1423.2,947.3 1421.1,948.1 1419.7,949.5 1419.7,950.9 1420.4,952.3 1421.1,953.0 1422.5,953.8 1426.7,955.2 1428.1,955.9 1428.8,956.6 1429.5,958.0 1429.5,960.2 1428.1,961.6 1426.0,962.3 1423.2,962.3 1421.1,961.6 1419.7,960.2M1434.5,947.3 1434.5,962.3M1434.5,947.3 1443.6,947.3M1434.5,954.5 1440.1,954.5M1434.5,962.3 1443.6,962.3M1471.8,949.5 1470.4,948.1 1468.3,947.3 1465.5,947.3 1463.4,948.1 1462.0,949.5 1462.0,950.9 1462.7,952.3 1463.4,953.0 1464.8,953.8 1469.0,955.2 1470.4,955.9 1471.1,956.6 1471.8,958.0 1471.8,960.2 1470.4,961.6 1468.3,962.3 1465.5,962.3 1463.4,961.6 1462.0,960.2M1476.7,947.3 1476.7,962.3M1486.6,947.3 1486.6,962.3M1476.7,954.5 1486.6,954.5M1495.8,947.3 1494.4,948.1 1493.0,949.5 1492.2,950.9 1491.5,953.0 1491.5,956.6 1492.2,958.7 1493.0,960.2 1494.4,961.6 1495.8,962.3 1498.6,962.3 1500.0,961.6 1501.4,960.2 1502.1,958.7 1502.8,956.6 1502.8,953.0 1502.1,950.9 1501.4,949.5 1500.0,948.1 1498.6,947.3 1495.8,947.3M1506.3,947.3 1509.9,962.3M1513.4,947.3 1509.9,962.3M1513.4,947.3 1516.9,962.3M1520.4,947.3 1516.9,962.3M1524.7,947.3 1524.7,962.3M1524.7,947.3 1534.5,962.3M1534.5,947.3 1534.5,962.3M1558.5,947.3 1552.8,962.3M1558.5,947.3 1564.1,962.3M1554.9,957.3 1562.0,957.3M1567.6,947.3 1567.6,962.3M1567.6,947.3 1574.0,947.3 1576.1,948.1 1576.8,948.8 1577.5,950.2 1577.5,951.6 1576.8,953.0 1576.1,953.8 1574.0,954.5M1567.6,954.5 1574.0,954.5 1576.1,955.2 1576.8,955.9 1577.5,957.3 1577.5,959.5 1576.8,960.9 1576.1,961.6 1574.0,962.3 1567.6,962.3M1585.9,947.3 1584.5,948.1 1583.1,949.5 1582.4,950.9 1581.7,953.0 1581.7,956.6 1582.4,958.7 1583.1,960.2 1584.5,961.6 1585.9,962.3 1588.8,962.3 1590.2,961.6 1591.6,960.2 1592.3,958.7 1593.0,956.6 1593.0,953.0 1592.3,950.9 1591.6,949.5 1590.2,948.1 1588.8,947.3 1585.9,947.3M1595.8,947.3 1601.4,962.3M1607.1,947.3 1601.4,962.3M1610.6,947.3 1610.6,962.3M1610.6,947.3 1619.8,947.3M1610.6,954.5 1616.2,954.5M1610.6,962.3 1619.8,962.3M1624.7,960.9 1624.0,961.6 1624.7,962.3 1625.4,961.6 1624.7,960.9" stroke-width="2.8"/>
<path d="M1180.6,978.0 1173.5,988.0 1184.1,988.0M1180.6,978.0 1180.6,993.0M1189.0,991.6 1188.3,992.3 1189.0,993.0 1189.7,992.3 1189.0,991.6M1210.2,978.0 1210.2,993.0M1210.2,993.0 1218.7,993.0M1222.2,978.0 1222.2,993.0M1222.2,978.0 1231.4,978.0M1222.2,985.2 1227.9,985.2M1222.2,993.0 1231.4,993.0M1239.2,978.0 1233.5,993.0M1239.2,978.0 1244.8,993.0M1235.6,988.0 1242.7,988.0M1248.4,978.0 1248.4,993.0M1248.4,978.0 1253.3,978.0 1255.4,978.8 1256.8,980.2 1257.5,981.6 1258.2,983.7 1258.2,987.3 1257.5,989.4 1256.8,990.9 1255.4,992.3 1253.3,993.0 1248.4,993.0M1287.9,981.6 1287.2,980.2 1285.8,978.8 1284.4,978.0 1281.5,978.0 1280.1,978.8 1278.7,980.2 1278.0,981.6 1277.3,983.7 1277.3,987.3 1278.0,989.4 1278.7,990.9 1280.1,992.3 1281.5,993.0 1284.4,993.0 1285.8,992.3 1287.2,990.9 1287.9,989.4M1296.4,978.0 1295.0,978.8 1293.5,980.2 1292.8,981.6 1292.1,983.7 1292.1,987.3 1292.8,989.4 1293.5,990.9 1295.0,992.3 1296.4,993.0 1299.2,993.0 1300.6,992.3 1302.0,990.9 1302.7,989.4 1303.4,987.3 1303.4,983.7 1302.7,981.6 1302.0,980.2 1300.6,978.8 1299.2,978.0 1296.4,978.0M1308.4,978.0 1308.4,993.0M1308.4,993.0 1316.9,993.0M1323.9,978.0 1322.5,978.8 1321.1,980.2 1320.4,981.6 1319.7,983.7 1319.7,987.3 1320.4,989.4 1321.1,990.9 1322.5,992.3 1323.9,993.0 1326.7,993.0 1328.1,992.3 1329.6,990.9 1330.3,989.4 1331.0,987.3 1331.0,983.7 1330.3,981.6 1329.6,980.2 1328.1,978.8 1326.7,978.0 1323.9,978.0M1335.9,978.0 1335.9,993.0M1335.9,978.0 1342.3,978.0 1344.4,978.8 1345.1,979.5 1345.8,980.9 1345.8,982.3 1345.1,983.7 1344.4,984.5 1342.3,985.2 1335.9,985.2M1340.9,985.2 1345.8,993.0M1359.9,980.2 1358.5,978.8 1356.4,978.0 1353.6,978.0 1351.5,978.8 1350.0,980.2 1350.0,981.6 1350.7,983.0 1351.5,983.7 1352.9,984.5 1357.1,985.9 1358.5,986.6 1359.2,987.3 1359.9,988.7 1359.9,990.9 1358.5,992.3 1356.4,993.0 1353.6,993.0 1351.5,992.3 1350.0,990.9M1383.2,978.0 1377.6,993.0M1383.2,978.0 1388.9,993.0M1379.7,988.0 1386.8,988.0M1392.4,978.0 1392.4,993.0M1392.4,978.0 1398.8,978.0 1400.9,978.8 1401.6,979.5 1402.3,980.9 1402.3,982.3 1401.6,983.7 1400.9,984.5 1398.8,985.2 1392.4,985.2M1397.4,985.2 1402.3,993.0M1407.2,978.0 1407.2,993.0M1407.2,978.0 1416.4,978.0M1407.2,985.2 1412.9,985.2M1407.2,993.0 1416.4,993.0M1439.0,978.0 1437.6,978.8 1436.2,980.2 1435.5,981.6 1434.8,983.7 1434.8,987.3 1435.5,989.4 1436.2,990.9 1437.6,992.3 1439.0,993.0 1441.8,993.0 1443.3,992.3 1444.7,990.9 1445.4,989.4 1446.1,987.3 1446.1,983.7 1445.4,981.6 1444.7,980.2 1443.3,978.8 1441.8,978.0 1439.0,978.0M1451.0,978.0 1451.0,993.0M1451.0,978.0 1457.4,978.0 1459.5,978.8 1460.2,979.5 1460.9,980.9 1460.9,983.0 1460.2,984.5 1459.5,985.2 1457.4,985.9 1451.0,985.9M1468.7,978.0 1468.7,993.0M1463.7,978.0 1473.6,978.0M1477.1,978.0 1477.1,993.0M1486.3,978.0 1484.9,978.8 1483.5,980.2 1482.8,981.6 1482.1,983.7 1482.1,987.3 1482.8,989.4 1483.5,990.9 1484.9,992.3 1486.3,993.0 1489.2,993.0 1490.6,992.3 1492.0,990.9 1492.7,989.4 1493.4,987.3 1493.4,983.7 1492.7,981.6 1492.0,980.2 1490.6,978.8 1489.2,978.0 1486.3,978.0M1498.3,978.0 1498.3,993.0M1498.3,978.0 1508.2,993.0M1508.2,978.0 1508.2,993.0M1517.4,978.0 1511.8,993.0M1517.4,978.0 1523.0,993.0M1513.9,988.0 1520.9,988.0M1526.6,978.0 1526.6,993.0M1526.6,993.0 1535.1,993.0M1539.3,991.6 1538.6,992.3 1539.3,993.0 1540.0,992.3 1539.3,991.6M1575.3,978.0 1575.3,993.0M1575.3,993.0 1583.8,993.0M1587.3,978.0 1587.3,993.0M1587.3,978.0 1596.5,978.0M1587.3,985.2 1593.0,985.2M1587.3,993.0 1596.5,993.0M1604.3,978.0 1598.6,993.0M1604.3,978.0 1609.9,993.0M1600.7,988.0 1607.8,988.0M1613.4,978.0 1613.4,993.0M1613.4,978.0 1618.4,978.0 1620.5,978.8 1621.9,980.2 1622.6,981.6 1623.3,983.7 1623.3,987.3 1622.6,989.4 1621.9,990.9 1620.5,992.3 1618.4,993.0 1613.4,993.0M1637.4,980.2 1636.0,978.8 1633.9,978.0 1631.1,978.0 1629.0,978.8 1627.6,980.2 1627.6,981.6 1628.3,983.0 1629.0,983.7 1630.4,984.5 1634.6,985.9 1636.0,986.6 1636.7,987.3 1637.4,988.7 1637.4,990.9 1636.0,992.3 1633.9,993.0 1631.1,993.0 1629.0,992.3 1627.6,990.9M1657.2,978.0 1657.2,993.0M1657.2,978.0 1662.9,993.0M1668.5,978.0 1662.9,993.0M1668.5,978.0 1668.5,993.0M1674.2,978.0 1674.2,988.7 1674.9,990.9 1676.3,992.3 1678.4,993.0 1679.8,993.0 1681.9,992.3 1683.3,990.9 1684.1,988.7 1684.1,978.0M1698.9,980.2 1697.5,978.8 1695.4,978.0 1692.5,978.0 1690.4,978.8 1689.0,980.2 1689.0,981.6 1689.7,983.0 1690.4,983.7 1691.8,984.5 1696.1,985.9 1697.5,986.6 1698.2,987.3 1698.9,988.7 1698.9,990.9 1697.5,992.3 1695.4,993.0 1692.5,993.0 1690.4,992.3 1689.0,990.9M1706.6,978.0 1706.6,993.0M1701.7,978.0 1711.6,978.0M1733.5,978.0 1727.8,993.0M1733.5,978.0 1739.1,993.0M1730.0,988.0 1737.0,988.0M1742.7,978.0 1742.7,993.0M1742.7,993.0 1751.1,993.0M1753.3,978.0 1756.8,993.0M1760.3,978.0 1756.8,993.0M1760.3,978.0 1763.8,993.0M1767.4,978.0 1763.8,993.0M1775.1,978.0 1769.5,993.0M1775.1,978.0 1780.8,993.0M1771.6,988.0 1778.7,988.0M1782.2,978.0 1787.9,985.2 1787.9,993.0M1793.5,978.0 1787.9,985.2M1806.2,980.2 1804.8,978.8 1802.7,978.0 1799.9,978.0 1797.7,978.8 1796.3,980.2 1796.3,981.6 1797.0,983.0 1797.7,983.7 1799.2,984.5 1803.4,985.9 1804.8,986.6 1805.5,987.3 1806.2,988.7 1806.2,990.9 1804.8,992.3 1802.7,993.0 1799.9,993.0 1797.7,992.3 1796.3,990.9M1826.0,978.0 1826.0,993.0M1826.0,978.0 1832.3,978.0 1834.5,978.8 1835.2,979.5 1835.9,980.9 1835.9,982.3 1835.2,983.7 1834.5,984.5 1832.3,985.2M1826.0,985.2 1832.3,985.2 1834.5,985.9 1835.2,986.6 1835.9,988.0 1835.9,990.2 1835.2,991.6 1834.5,992.3 1832.3,993.0 1826.0,993.0M1840.8,978.0 1840.8,993.0M1840.8,978.0 1850.0,978.0M1840.8,985.2 1846.5,985.2M1840.8,993.0 1850.0,993.0" stroke-width="2.8"/>
<path d="M1218.9,1000.6 1218.9,1015.6M1218.9,1000.6 1228.8,1015.6M1228.8,1000.6 1228.8,1015.6M1234.4,1000.6 1234.4,1011.3 1235.1,1013.5 1236.5,1014.9 1238.7,1015.6 1240.1,1015.6 1242.2,1014.9 1243.6,1013.5 1244.3,1011.3 1244.3,1000.6M1250.0,1000.6 1250.0,1015.6M1250.0,1000.6 1255.6,1015.6M1261.2,1000.6 1255.6,1015.6M1261.2,1000.6 1261.2,1015.6M1266.9,1000.6 1266.9,1015.6M1266.9,1000.6 1273.2,1000.6 1275.4,1001.4 1276.1,1002.1 1276.8,1003.5 1276.8,1004.9 1276.1,1006.3 1275.4,1007.1 1273.2,1007.8M1266.9,1007.8 1273.2,1007.8 1275.4,1008.5 1276.1,1009.2 1276.8,1010.6 1276.8,1012.8 1276.1,1014.2 1275.4,1014.9 1273.2,1015.6 1266.9,1015.6M1281.7,1000.6 1281.7,1015.6M1281.7,1000.6 1290.9,1000.6M1281.7,1007.8 1287.4,1007.8M1281.7,1015.6 1290.9,1015.6M1295.1,1000.6 1295.1,1015.6M1295.1,1000.6 1301.5,1000.6 1303.6,1001.4 1304.3,1002.1 1305.0,1003.5 1305.0,1004.9 1304.3,1006.3 1303.6,1007.1 1301.5,1007.8 1295.1,1007.8M1300.1,1007.8 1305.0,1015.6M1310.0,1000.6 1310.0,1015.6M1310.0,1000.6 1319.1,1000.6M1310.0,1007.8 1315.6,1007.8M1310.0,1015.6 1319.1,1015.6M1323.4,1000.6 1323.4,1015.6M1323.4,1000.6 1328.3,1000.6 1330.4,1001.4 1331.8,1002.8 1332.5,1004.2 1333.2,1006.3 1333.2,1009.9 1332.5,1012.0 1331.8,1013.5 1330.4,1014.9 1328.3,1015.6 1323.4,1015.6M1356.5,1000.6 1350.9,1015.6M1356.5,1000.6 1362.2,1015.6M1353.0,1010.6 1360.1,1010.6M1374.9,1002.8 1373.5,1001.4 1371.4,1000.6 1368.5,1000.6 1366.4,1001.4 1365.0,1002.8 1365.0,1004.2 1365.7,1005.6 1366.4,1006.3 1367.8,1007.1 1372.1,1008.5 1373.5,1009.2 1374.2,1009.9 1374.9,1011.3 1374.9,1013.5 1373.5,1014.9 1371.4,1015.6 1368.5,1015.6 1366.4,1014.9 1365.0,1013.5M1403.8,1002.8 1402.4,1001.4 1400.3,1000.6 1397.5,1000.6 1395.4,1001.4 1393.9,1002.8 1393.9,1004.2 1394.6,1005.6 1395.4,1006.3 1396.8,1007.1 1401.0,1008.5 1402.4,1009.2 1403.1,1009.9 1403.8,1011.3 1403.8,1013.5 1402.4,1014.9 1400.3,1015.6 1397.5,1015.6 1395.4,1014.9 1393.9,1013.5M1408.8,1000.6 1408.8,1015.6M1418.6,1000.6 1418.6,1015.6M1408.8,1007.8 1418.6,1007.8M1427.8,1000.6 1426.4,1001.4 1425.0,1002.8 1424.3,1004.2 1423.6,1006.3 1423.6,1009.9 1424.3,1012.0 1425.0,1013.5 1426.4,1014.9 1427.8,1015.6 1430.6,1015.6 1432.1,1014.9 1433.5,1013.5 1434.2,1012.0 1434.9,1009.9 1434.9,1006.3 1434.2,1004.2 1433.5,1002.8 1432.1,1001.4 1430.6,1000.6 1427.8,1000.6M1438.4,1000.6 1441.9,1015.6M1445.5,1000.6 1441.9,1015.6M1445.5,1000.6 1449.0,1015.6M1452.5,1000.6 1449.0,1015.6M1456.8,1000.6 1456.8,1015.6M1456.8,1000.6 1466.6,1015.6M1466.6,1000.6 1466.6,1015.6M1473.0,1014.2 1472.3,1014.9 1473.0,1015.6 1473.7,1014.9 1473.0,1014.2" stroke-width="2.8"/>
<path d="M1758.8,78.4 1757.9,76.6 1756.2,74.8 1754.5,73.8 1751.1,73.8 1749.4,74.8 1747.7,76.6 1746.8,78.4 1746.0,81.2 1746.0,85.8 1746.8,88.6 1747.7,90.4 1749.4,92.2 1751.1,93.2 1754.5,93.2 1756.2,92.2 1757.9,90.4 1758.8,88.6M1764.7,73.8 1764.7,93.2M1764.7,73.8 1770.7,73.8 1773.3,74.8 1775.0,76.6 1775.8,78.4 1776.7,81.2 1776.7,85.8 1775.8,88.6 1775.0,90.4 1773.3,92.2 1770.7,93.2 1764.7,93.2M1786.9,73.8 1784.4,74.8 1782.7,77.5 1781.8,82.1 1781.8,84.9 1782.7,89.5 1784.4,92.2 1786.9,93.2 1788.6,93.2 1791.2,92.2 1792.9,89.5 1793.8,84.9 1793.8,82.1 1792.9,77.5 1791.2,74.8 1788.6,73.8 1786.9,73.8M1801.5,77.5 1803.2,76.6 1805.7,73.8 1805.7,93.2M1821.1,73.8 1818.5,74.8 1816.8,77.5 1816.0,82.1 1816.0,84.9 1816.8,89.5 1818.5,92.2 1821.1,93.2 1822.8,93.2 1825.4,92.2 1827.1,89.5 1827.9,84.9 1827.9,82.1 1827.1,77.5 1825.4,74.8 1822.8,73.8 1821.1,73.8M1841.6,73.8 1833.0,86.7 1845.8,86.7M1841.6,73.8 1841.6,93.2" stroke-width="2.5"/>
<path d="M77.1,1401.7 77.1,1416.7M77.1,1401.7 83.7,1401.7 85.8,1402.5 86.6,1403.2 87.3,1404.6 87.3,1406.0 86.6,1407.4 85.8,1408.2 83.7,1408.9 77.1,1408.9M82.2,1408.9 87.3,1416.7M92.4,1401.7 92.4,1416.7M92.4,1401.7 101.9,1401.7M92.4,1408.9 98.2,1408.9M92.4,1416.7 101.9,1416.7M104.0,1401.7 109.9,1416.7M115.7,1401.7 109.9,1416.7M120.1,1415.3 119.3,1416.0 120.1,1416.7 120.8,1416.0 120.1,1415.3" stroke-width="2.8"/>
<path d="M138.8,1401.7 138.8,1416.7M138.8,1401.7 143.9,1401.7 146.1,1402.5 147.5,1403.9 148.2,1405.3 149.0,1407.4 149.0,1411.0 148.2,1413.1 147.5,1414.6 146.1,1416.0 143.9,1416.7 138.8,1416.7M154.0,1401.7 154.0,1416.7M154.0,1401.7 163.5,1401.7M154.0,1408.9 159.8,1408.9M154.0,1416.7 163.5,1416.7M177.2,1403.9 175.8,1402.5 173.6,1401.7 170.7,1401.7 168.5,1402.5 167.1,1403.9 167.1,1405.3 167.8,1406.7 168.5,1407.4 170.0,1408.2 174.3,1409.6 175.8,1410.3 176.5,1411.0 177.2,1412.4 177.2,1414.6 175.8,1416.0 173.6,1416.7 170.7,1416.7 168.5,1416.0 167.1,1414.6M192.5,1405.3 191.7,1403.9 190.3,1402.5 188.8,1401.7 185.9,1401.7 184.5,1402.5 183.0,1403.9 182.3,1405.3 181.6,1407.4 181.6,1411.0 182.3,1413.1 183.0,1414.6 184.5,1416.0 185.9,1416.7 188.8,1416.7 190.3,1416.0 191.7,1414.6 192.5,1413.1M198.3,1406.7 197.5,1407.4 198.3,1408.2 199.0,1407.4 198.3,1406.7M198.3,1415.3 197.5,1416.0 198.3,1416.7 199.0,1416.0 198.3,1415.3" stroke-width="2.8"/>
<path d="M232.1,1401.7 226.4,1416.7M232.1,1401.7 237.8,1416.7M228.5,1411.7 235.7,1411.7M241.4,1401.7 241.4,1416.7M241.4,1401.7 246.3,1401.7 248.5,1402.5 249.9,1403.9 250.6,1405.3 251.3,1407.4 251.3,1411.0 250.6,1413.1 249.9,1414.6 248.5,1416.0 246.3,1416.7 241.4,1416.7M256.3,1401.7 256.3,1416.7M256.3,1401.7 261.3,1401.7 263.4,1402.5 264.9,1403.9 265.6,1405.3 266.3,1407.4 266.3,1411.0 265.6,1413.1 264.9,1414.6 263.4,1416.0 261.3,1416.7 256.3,1416.7" stroke-width="2.8"/>
<path d="M294.8,1405.3 294.0,1403.9 292.5,1402.5 291.0,1401.7 288.1,1401.7 286.6,1402.5 285.1,1403.9 284.3,1405.3 283.6,1407.4 283.6,1411.0 284.3,1413.1 285.1,1414.6 286.6,1416.0 288.1,1416.7 291.0,1416.7 292.5,1416.0 294.0,1414.6 294.8,1413.1M300.0,1401.7 300.0,1416.7M300.0,1416.7 308.9,1416.7M316.4,1401.7 310.4,1416.7M316.4,1401.7 322.3,1416.7M312.6,1411.7 320.1,1411.7M335.7,1403.9 334.2,1402.5 332.0,1401.7 329.0,1401.7 326.8,1402.5 325.3,1403.9 325.3,1405.3 326.0,1406.7 326.8,1407.4 328.3,1408.2 332.7,1409.6 334.2,1410.3 335.0,1411.0 335.7,1412.4 335.7,1414.6 334.2,1416.0 332.0,1416.7 329.0,1416.7 326.8,1416.0 325.3,1414.6M350.6,1403.9 349.1,1402.5 346.9,1401.7 343.9,1401.7 341.7,1402.5 340.2,1403.9 340.2,1405.3 340.9,1406.7 341.7,1407.4 343.2,1408.2 347.6,1409.6 349.1,1410.3 349.9,1411.0 350.6,1412.4 350.6,1414.6 349.1,1416.0 346.9,1416.7 343.9,1416.7 341.7,1416.0 340.2,1414.6" stroke-width="2.8"/>
<path d="M378.7,1405.3 378.0,1403.9 376.6,1402.5 375.1,1401.7 372.3,1401.7 370.9,1402.5 369.5,1403.9 368.8,1405.3 368.1,1407.4 368.1,1411.0 368.8,1413.1 369.5,1414.6 370.9,1416.0 372.3,1416.7 375.1,1416.7 376.6,1416.0 378.0,1414.6 378.7,1413.1M387.1,1401.7 385.7,1402.5 384.3,1403.9 383.6,1405.3 382.9,1407.4 382.9,1411.0 383.6,1413.1 384.3,1414.6 385.7,1416.0 387.1,1416.7 390.0,1416.7 391.4,1416.0 392.8,1414.6 393.5,1413.1 394.2,1411.0 394.2,1407.4 393.5,1405.3 392.8,1403.9 391.4,1402.5 390.0,1401.7 387.1,1401.7M399.1,1401.7 399.1,1416.7M399.1,1401.7 409.0,1416.7M409.0,1401.7 409.0,1416.7M414.6,1401.7 414.6,1416.7M414.6,1401.7 424.5,1416.7M424.5,1401.7 424.5,1416.7M433.7,1401.7 431.5,1402.5 430.1,1404.6 429.4,1408.2 429.4,1410.3 430.1,1413.9 431.5,1416.0 433.7,1416.7 435.1,1416.7 437.2,1416.0 438.6,1413.9 439.3,1410.3 439.3,1408.2 438.6,1404.6 437.2,1402.5 435.1,1401.7 433.7,1401.7M447.8,1401.7 445.6,1402.5 444.2,1404.6 443.5,1408.2 443.5,1410.3 444.2,1413.9 445.6,1416.0 447.8,1416.7 449.2,1416.7 451.3,1416.0 452.7,1413.9 453.4,1410.3 453.4,1408.2 452.7,1404.6 451.3,1402.5 449.2,1401.7 447.8,1401.7M461.9,1401.7 459.7,1402.5 458.3,1404.6 457.6,1408.2 457.6,1410.3 458.3,1413.9 459.7,1416.0 461.9,1416.7 463.3,1416.7 465.4,1416.0 466.8,1413.9 467.5,1410.3 467.5,1408.2 466.8,1404.6 465.4,1402.5 463.3,1401.7 461.9,1401.7M476.0,1401.7 473.8,1402.5 472.4,1404.6 471.7,1408.2 471.7,1410.3 472.4,1413.9 473.8,1416.0 476.0,1416.7 477.4,1416.7 479.5,1416.0 480.9,1413.9 481.6,1410.3 481.6,1408.2 480.9,1404.6 479.5,1402.5 477.4,1401.7 476.0,1401.7M490.1,1401.7 487.9,1402.5 486.5,1404.6 485.8,1408.2 485.8,1410.3 486.5,1413.9 487.9,1416.0 490.1,1416.7 491.5,1416.7 493.6,1416.0 495.0,1413.9 495.7,1410.3 495.7,1408.2 495.0,1404.6 493.6,1402.5 491.5,1401.7 490.1,1401.7M504.2,1401.7 502.0,1402.5 500.6,1404.6 499.9,1408.2 499.9,1410.3 500.6,1413.9 502.0,1416.0 504.2,1416.7 505.6,1416.7 507.7,1416.0 509.1,1413.9 509.8,1410.3 509.8,1408.2 509.1,1404.6 507.7,1402.5 505.6,1401.7 504.2,1401.7M518.3,1401.7 516.1,1402.5 514.7,1404.6 514.0,1408.2 514.0,1410.3 514.7,1413.9 516.1,1416.0 518.3,1416.7 519.7,1416.7 521.8,1416.0 523.2,1413.9 523.9,1410.3 523.9,1408.2 523.2,1404.6 521.8,1402.5 519.7,1401.7 518.3,1401.7M538.0,1401.7 531.0,1416.7M528.1,1401.7 538.0,1401.7" stroke-width="2.8"/>
<path d="M77.1,1436.0 77.1,1451.0M77.1,1436.0 83.7,1436.0 85.8,1436.8 86.6,1437.5 87.3,1438.9 87.3,1440.3 86.6,1441.7 85.8,1442.5 83.7,1443.2 77.1,1443.2M82.2,1443.2 87.3,1451.0M92.4,1436.0 92.4,1451.0M92.4,1436.0 101.9,1436.0M92.4,1443.2 98.2,1443.2M92.4,1451.0 101.9,1451.0M104.0,1436.0 109.9,1451.0M115.7,1436.0 109.9,1451.0M120.1,1449.6 119.3,1450.3 120.1,1451.0 120.8,1450.3 120.1,1449.6" stroke-width="2.8"/>
<path d="M138.8,1436.0 138.8,1451.0M138.8,1451.0 147.7,1451.0M154.4,1436.0 154.4,1451.0M149.2,1436.0 159.7,1436.0M163.4,1436.0 163.4,1451.0M163.4,1436.0 170.1,1436.0 172.3,1436.8 173.1,1437.5 173.8,1438.9 173.8,1440.3 173.1,1441.7 172.3,1442.5 170.1,1443.2 163.4,1443.2M168.6,1443.2 173.8,1451.0M179.8,1441.0 179.0,1441.7 179.8,1442.5 180.5,1441.7 179.8,1441.0M179.8,1449.6 179.0,1450.3 179.8,1451.0 180.5,1450.3 179.8,1449.6" stroke-width="2.8"/>
<path d="M208.7,1436.0 208.7,1451.0M208.7,1436.0 213.9,1436.0 216.1,1436.8 217.6,1438.2 218.4,1439.6 219.1,1441.7 219.1,1445.3 218.4,1447.4 217.6,1448.9 216.1,1450.3 213.9,1451.0 208.7,1451.0" stroke-width="2.8"/>
<path d="M401.9,1434.9 407.5,1449.9M413.0,1434.9 407.5,1449.9M416.5,1434.9 416.5,1449.9M416.5,1434.9 425.5,1434.9M416.5,1442.1 422.0,1442.1M416.5,1449.9 425.5,1449.9M429.7,1434.9 429.7,1449.9M429.7,1434.9 435.9,1434.9 438.0,1435.7 438.7,1436.4 439.4,1437.8 439.4,1439.2 438.7,1440.6 438.0,1441.4 435.9,1442.1 429.7,1442.1M434.5,1442.1 439.4,1449.9M453.3,1437.1 451.9,1435.7 449.8,1434.9 447.0,1434.9 444.9,1435.7 443.5,1437.1 443.5,1438.5 444.2,1439.9 444.9,1440.6 446.3,1441.4 450.5,1442.8 451.9,1443.5 452.6,1444.2 453.3,1445.6 453.3,1447.8 451.9,1449.2 449.8,1449.9 447.0,1449.9 444.9,1449.2 443.5,1447.8M458.1,1434.9 458.1,1449.9M467.1,1434.9 465.8,1435.7 464.4,1437.1 463.7,1438.5 463.0,1440.6 463.0,1444.2 463.7,1446.3 464.4,1447.8 465.8,1449.2 467.1,1449.9 469.9,1449.9 471.3,1449.2 472.7,1447.8 473.4,1446.3 474.1,1444.2 474.1,1440.6 473.4,1438.5 472.7,1437.1 471.3,1435.7 469.9,1434.9 467.1,1434.9M478.9,1434.9 478.9,1449.9M478.9,1434.9 488.7,1449.9M488.7,1434.9 488.7,1449.9M494.9,1439.9 494.2,1440.6 494.9,1441.4 495.6,1440.6 494.9,1439.9M494.9,1448.5 494.2,1449.2 494.9,1449.9 495.6,1449.2 494.9,1448.5" stroke-width="2.8"/>
<path d="M513.3,1434.9 511.3,1435.7 510.0,1437.8 509.3,1441.4 509.3,1443.5 510.0,1447.1 511.3,1449.2 513.3,1449.9 514.6,1449.9 516.6,1449.2 517.9,1447.1 518.6,1443.5 518.6,1441.4 517.9,1437.8 516.6,1435.7 514.6,1434.9 513.3,1434.9M524.6,1437.8 525.9,1437.1 527.9,1434.9 527.9,1449.9" stroke-width="2.8"/>
<path d="M807.4,1436.5 807.4,1451.5M802.6,1436.5 812.2,1436.5M815.6,1436.5 815.6,1451.5M815.6,1436.5 820.4,1436.5 822.5,1437.3 823.9,1438.7 824.5,1440.1 825.2,1442.2 825.2,1445.8 824.5,1447.9 823.9,1449.4 822.5,1450.8 820.4,1451.5 815.6,1451.5M830.0,1436.5 830.0,1451.5M830.0,1436.5 836.2,1436.5 838.3,1437.3 838.9,1438.0 839.6,1439.4 839.6,1440.8 838.9,1442.2 838.3,1443.0 836.2,1443.7 830.0,1443.7M834.8,1443.7 839.6,1451.5M845.1,1441.5 844.4,1442.2 845.1,1443.0 845.8,1442.2 845.1,1441.5M845.1,1450.1 844.4,1450.8 845.1,1451.5 845.8,1450.8 845.1,1450.1" stroke-width="2.8"/>
<path d="M864.6,1436.5 862.5,1437.3 861.1,1439.4 860.4,1443.0 860.4,1445.1 861.1,1448.7 862.5,1450.8 864.6,1451.5 865.9,1451.5 868.0,1450.8 869.4,1448.7 870.1,1445.1 870.1,1443.0 869.4,1439.4 868.0,1437.3 865.9,1436.5 864.6,1436.5M878.4,1436.5 876.3,1437.3 874.9,1439.4 874.2,1443.0 874.2,1445.1 874.9,1448.7 876.3,1450.8 878.4,1451.5 879.8,1451.5 881.9,1450.8 883.2,1448.7 883.9,1445.1 883.9,1443.0 883.2,1439.4 881.9,1437.3 879.8,1436.5 878.4,1436.5M892.2,1436.5 890.2,1437.3 888.8,1439.4 888.1,1443.0 888.1,1445.1 888.8,1448.7 890.2,1450.8 892.2,1451.5 893.6,1451.5 895.7,1450.8 897.1,1448.7 897.8,1445.1 897.8,1443.0 897.1,1439.4 895.7,1437.3 893.6,1436.5 892.2,1436.5M906.1,1436.5 904.0,1437.3 902.6,1439.4 901.9,1443.0 901.9,1445.1 902.6,1448.7 904.0,1450.8 906.1,1451.5 907.5,1451.5 909.6,1450.8 910.9,1448.7 911.6,1445.1 911.6,1443.0 910.9,1439.4 909.6,1437.3 907.5,1436.5 906.1,1436.5M919.9,1436.5 917.9,1437.3 916.5,1439.4 915.8,1443.0 915.8,1445.1 916.5,1448.7 917.9,1450.8 919.9,1451.5 921.3,1451.5 923.4,1450.8 924.8,1448.7 925.5,1445.1 925.5,1443.0 924.8,1439.4 923.4,1437.3 921.3,1436.5 919.9,1436.5M931.7,1439.4 933.1,1438.7 935.2,1436.5 935.2,1451.5M947.6,1436.5 945.6,1437.3 944.2,1439.4 943.5,1443.0 943.5,1445.1 944.2,1448.7 945.6,1450.8 947.6,1451.5 949.0,1451.5 951.1,1450.8 952.5,1448.7 953.2,1445.1 953.2,1443.0 952.5,1439.4 951.1,1437.3 949.0,1436.5 947.6,1436.5M966.3,1441.5 965.6,1443.7 964.2,1445.1 962.2,1445.8 961.5,1445.8 959.4,1445.1 958.0,1443.7 957.3,1441.5 957.3,1440.8 958.0,1438.7 959.4,1437.3 961.5,1436.5 962.2,1436.5 964.2,1437.3 965.6,1438.7 966.3,1441.5 966.3,1445.1 965.6,1448.7 964.2,1450.8 962.2,1451.5 960.8,1451.5 958.7,1450.8 958.0,1449.4M980.2,1441.5 979.5,1443.7 978.1,1445.1 976.0,1445.8 975.3,1445.8 973.2,1445.1 971.9,1443.7 971.2,1441.5 971.2,1440.8 971.9,1438.7 973.2,1437.3 975.3,1436.5 976.0,1436.5 978.1,1437.3 979.5,1438.7 980.2,1441.5 980.2,1445.1 979.5,1448.7 978.1,1450.8 976.0,1451.5 974.6,1451.5 972.6,1450.8 971.9,1449.4M994.0,1441.5 993.3,1443.7 991.9,1445.1 989.9,1445.8 989.2,1445.8 987.1,1445.1 985.7,1443.7 985.0,1441.5 985.0,1440.8 985.7,1438.7 987.1,1437.3 989.2,1436.5 989.9,1436.5 991.9,1437.3 993.3,1438.7 994.0,1441.5 994.0,1445.1 993.3,1448.7 991.9,1450.8 989.9,1451.5 988.5,1451.5 986.4,1450.8 985.7,1449.4M999.6,1440.1 999.6,1439.4 1000.2,1438.0 1000.9,1437.3 1002.3,1436.5 1005.1,1436.5 1006.5,1437.3 1007.2,1438.0 1007.9,1439.4 1007.9,1440.8 1007.2,1442.2 1005.8,1444.4 998.9,1451.5 1008.6,1451.5M1013.4,1440.1 1013.4,1439.4 1014.1,1438.0 1014.8,1437.3 1016.2,1436.5 1018.9,1436.5 1020.3,1437.3 1021.0,1438.0 1021.7,1439.4 1021.7,1440.8 1021.0,1442.2 1019.6,1444.4 1012.7,1451.5 1022.4,1451.5" stroke-width="2.8"/>
<path d="M77.9,1470.4 77.9,1485.4M77.9,1470.4 87.1,1470.4M77.9,1477.6 83.6,1477.6M90.7,1470.4 90.7,1485.4M96.3,1470.4 96.3,1485.4M96.3,1485.4 104.9,1485.4M108.4,1470.4 108.4,1485.4M108.4,1470.4 117.6,1470.4M108.4,1477.6 114.1,1477.6M108.4,1485.4 117.6,1485.4M122.6,1475.4 121.9,1476.1 122.6,1476.9 123.3,1476.1 122.6,1475.4M122.6,1484.0 121.9,1484.7 122.6,1485.4 123.3,1484.7 122.6,1484.0" stroke-width="2.8"/>
<path d="M138.1,1469.0 149.0,1490.0" stroke-width="2.8"/>
<path d="M159.2,1470.4 153.4,1485.4M159.2,1470.4 165.1,1485.4M155.6,1480.4 162.9,1480.4M174.2,1470.4 168.4,1485.4M174.2,1470.4 180.0,1485.4M170.6,1480.4 177.8,1480.4M189.2,1470.4 183.3,1485.4M189.2,1470.4 195.0,1485.4M185.5,1480.4 192.8,1480.4" stroke-width="2.8"/>
<path d="M200.7,1469.0 211.5,1490.0" stroke-width="2.8"/>
<path d="M219.9,1470.4 217.8,1471.2 216.4,1473.3 215.7,1476.9 215.7,1479.0 216.4,1482.6 217.8,1484.7 219.9,1485.4 221.3,1485.4 223.4,1484.7 224.7,1482.6 225.4,1479.0 225.4,1476.9 224.7,1473.3 223.4,1471.2 221.3,1470.4 219.9,1470.4M233.8,1470.4 231.7,1471.2 230.3,1473.3 229.6,1476.9 229.6,1479.0 230.3,1482.6 231.7,1484.7 233.8,1485.4 235.2,1485.4 237.3,1484.7 238.7,1482.6 239.4,1479.0 239.4,1476.9 238.7,1473.3 237.3,1471.2 235.2,1470.4 233.8,1470.4M247.7,1470.4 245.6,1471.2 244.2,1473.3 243.5,1476.9 243.5,1479.0 244.2,1482.6 245.6,1484.7 247.7,1485.4 249.1,1485.4 251.2,1484.7 252.6,1482.6 253.3,1479.0 253.3,1476.9 252.6,1473.3 251.2,1471.2 249.1,1470.4 247.7,1470.4M261.6,1470.4 259.5,1471.2 258.1,1473.3 257.4,1476.9 257.4,1479.0 258.1,1482.6 259.5,1484.7 261.6,1485.4 263.0,1485.4 265.1,1484.7 266.5,1482.6 267.2,1479.0 267.2,1476.9 266.5,1473.3 265.1,1471.2 263.0,1470.4 261.6,1470.4M274.8,1470.4 272.8,1471.2 272.1,1472.6 272.1,1474.0 272.8,1475.4 274.1,1476.1 276.9,1476.9 279.0,1477.6 280.4,1479.0 281.1,1480.4 281.1,1482.6 280.4,1484.0 279.7,1484.7 277.6,1485.4 274.8,1485.4 272.8,1484.7 272.1,1484.0 271.4,1482.6 271.4,1480.4 272.1,1479.0 273.4,1477.6 275.5,1476.9 278.3,1476.1 279.7,1475.4 280.4,1474.0 280.4,1472.6 279.7,1471.2 277.6,1470.4 274.8,1470.4" stroke-width="2.8"/>
<path d="M286.3,1469.0 297.3,1490.0" stroke-width="2.8"/>
<path d="M303.1,1470.4 310.6,1470.4 306.5,1476.1 308.5,1476.1 309.9,1476.9 310.6,1477.6 311.3,1479.7 311.3,1481.1 310.6,1483.3 309.2,1484.7 307.2,1485.4 305.1,1485.4 303.1,1484.7 302.4,1484.0 301.7,1482.6M324.9,1470.4 318.1,1485.4M315.4,1470.4 324.9,1470.4M338.6,1470.4 331.8,1485.4M329.0,1470.4 338.6,1470.4" stroke-width="2.8"/>
<path d="M401.2,1470.5 401.2,1485.5M401.2,1470.5 407.6,1470.5 409.8,1471.3 410.5,1472.0 411.2,1473.4 411.2,1474.8 410.5,1476.2 409.8,1477.0 407.6,1477.7 401.2,1477.7M406.2,1477.7 411.2,1485.5M416.2,1470.5 416.2,1485.5M416.2,1470.5 425.6,1470.5M416.2,1477.7 422.0,1477.7M416.2,1485.5 425.6,1485.5M427.7,1470.5 433.4,1485.5M439.2,1470.5 433.4,1485.5M442.8,1470.5 442.8,1485.5M457.8,1472.7 456.4,1471.3 454.2,1470.5 451.3,1470.5 449.2,1471.3 447.8,1472.7 447.8,1474.1 448.5,1475.5 449.2,1476.2 450.6,1477.0 454.9,1478.4 456.4,1479.1 457.1,1479.8 457.8,1481.2 457.8,1483.4 456.4,1484.8 454.2,1485.5 451.3,1485.5 449.2,1484.8 447.8,1483.4M462.8,1470.5 462.8,1485.5M462.8,1470.5 472.1,1470.5M462.8,1477.7 468.5,1477.7M462.8,1485.5 472.1,1485.5M476.4,1470.5 476.4,1485.5M476.4,1470.5 481.4,1470.5 483.6,1471.3 485.0,1472.7 485.7,1474.1 486.5,1476.2 486.5,1479.8 485.7,1481.9 485.0,1483.4 483.6,1484.8 481.4,1485.5 476.4,1485.5M492.2,1475.5 491.5,1476.2 492.2,1477.0 492.9,1476.2 492.2,1475.5M492.2,1484.1 491.5,1484.8 492.2,1485.5 492.9,1484.8 492.2,1484.1" stroke-width="2.8"/>
<path d="M512.8,1470.5 510.8,1471.3 509.4,1473.4 508.7,1477.0 508.7,1479.1 509.4,1482.7 510.8,1484.8 512.8,1485.5 514.2,1485.5 516.3,1484.8 517.7,1482.7 518.4,1479.1 518.4,1477.0 517.7,1473.4 516.3,1471.3 514.2,1470.5 512.8,1470.5M531.5,1475.5 530.8,1477.7 529.4,1479.1 527.3,1479.8 526.7,1479.8 524.6,1479.1 523.2,1477.7 522.5,1475.5 522.5,1474.8 523.2,1472.7 524.6,1471.3 526.7,1470.5 527.3,1470.5 529.4,1471.3 530.8,1472.7 531.5,1475.5 531.5,1479.1 530.8,1482.7 529.4,1484.8 527.3,1485.5 526.0,1485.5 523.9,1484.8 523.2,1483.4M537.7,1475.5 537.0,1476.2 537.7,1477.0 538.4,1476.2 537.7,1475.5M537.7,1484.1 537.0,1484.8 537.7,1485.5 538.4,1484.8 537.7,1484.1" stroke-width="2.8"/>
<path d="M552.1,1470.5 550.0,1471.3 548.7,1473.4 548.0,1477.0 548.0,1479.1 548.7,1482.7 550.0,1484.8 552.1,1485.5 553.4,1485.5 555.4,1484.8 556.8,1482.7 557.5,1479.1 557.5,1477.0 556.8,1473.4 555.4,1471.3 553.4,1470.5 552.1,1470.5M562.2,1474.1 562.2,1473.4 562.9,1472.0 563.6,1471.3 564.9,1470.5 567.6,1470.5 569.0,1471.3 569.7,1472.0 570.3,1473.4 570.3,1474.8 569.7,1476.2 568.3,1478.4 561.5,1485.5 571.0,1485.5M576.4,1475.5 575.7,1476.2 576.4,1477.0 577.1,1476.2 576.4,1475.5M576.4,1484.1 575.7,1484.8 576.4,1485.5 577.1,1484.8 576.4,1484.1" stroke-width="2.8"/>
<path d="M595.2,1470.5 588.4,1470.5 587.7,1477.0 588.4,1476.2 590.4,1475.5 592.4,1475.5 594.5,1476.2 595.8,1477.7 596.5,1479.8 596.5,1481.2 595.8,1483.4 594.5,1484.8 592.4,1485.5 590.4,1485.5 588.4,1484.8 587.7,1484.1 587.0,1482.7M608.7,1470.5 601.9,1470.5 601.3,1477.0 601.9,1476.2 604.0,1475.5 606.0,1475.5 608.1,1476.2 609.4,1477.7 610.1,1479.8 610.1,1481.2 609.4,1483.4 608.1,1484.8 606.0,1485.5 604.0,1485.5 601.9,1484.8 601.3,1484.1 600.6,1482.7" stroke-width="2.8"/>
<path d="M631.8,1470.5 629.7,1471.3 628.3,1473.4 627.6,1477.0 627.6,1479.1 628.3,1482.7 629.7,1484.8 631.8,1485.5 633.2,1485.5 635.4,1484.8 636.8,1482.7 637.5,1479.1 637.5,1477.0 636.8,1473.4 635.4,1471.3 633.2,1470.5 631.8,1470.5M642.4,1474.1 642.4,1473.4 643.1,1472.0 643.8,1471.3 645.2,1470.5 648.1,1470.5 649.5,1471.3 650.2,1472.0 650.9,1473.4 650.9,1474.8 650.2,1476.2 648.8,1478.4 641.7,1485.5 651.6,1485.5M665.5,1469.1 654.6,1490.1M670.7,1473.4 672.1,1472.7 674.2,1470.5 674.2,1485.5M691.8,1475.5 691.1,1477.7 689.7,1479.1 687.6,1479.8 686.9,1479.8 684.8,1479.1 683.4,1477.7 682.7,1475.5 682.7,1474.8 683.4,1472.7 684.8,1471.3 686.9,1470.5 687.6,1470.5 689.7,1471.3 691.1,1472.7 691.8,1475.5 691.8,1479.1 691.1,1482.7 689.7,1484.8 687.6,1485.5 686.2,1485.5 684.1,1484.8 683.4,1483.4M706.4,1469.1 695.6,1490.1M710.2,1474.1 710.2,1473.4 710.9,1472.0 711.6,1471.3 713.0,1470.5 715.8,1470.5 717.2,1471.3 717.9,1472.0 718.7,1473.4 718.7,1474.8 717.9,1476.2 716.5,1478.4 709.5,1485.5 719.4,1485.5M727.8,1470.5 725.7,1471.3 724.3,1473.4 723.6,1477.0 723.6,1479.1 724.3,1482.7 725.7,1484.8 727.8,1485.5 729.2,1485.5 731.4,1484.8 732.8,1482.7 733.5,1479.1 733.5,1477.0 732.8,1473.4 731.4,1471.3 729.2,1470.5 727.8,1470.5M739.8,1473.4 741.2,1472.7 743.4,1470.5 743.4,1485.5M761.0,1475.5 760.3,1477.7 758.9,1479.1 756.8,1479.8 756.1,1479.8 753.9,1479.1 752.5,1477.7 751.8,1475.5 751.8,1474.8 752.5,1472.7 753.9,1471.3 756.1,1470.5 756.8,1470.5 758.9,1471.3 760.3,1472.7 761.0,1475.5 761.0,1479.1 760.3,1482.7 758.9,1484.8 756.8,1485.5 755.4,1485.5 753.2,1484.8 752.5,1483.4" stroke-width="2.8"/>
<path d="M802.2,1471.1 802.2,1486.1M802.2,1471.1 808.9,1471.1 811.2,1471.9 811.9,1472.6 812.6,1474.0 812.6,1475.4 811.9,1476.8 811.2,1477.6 808.9,1478.3M802.2,1478.3 808.9,1478.3 811.2,1479.0 811.9,1479.7 812.6,1481.1 812.6,1483.3 811.9,1484.7 811.2,1485.4 808.9,1486.1 802.2,1486.1M815.6,1471.1 821.6,1478.3 821.6,1486.1M827.6,1471.1 821.6,1478.3M832.1,1476.1 831.3,1476.8 832.1,1477.6 832.8,1476.8 832.1,1476.1M832.1,1484.7 831.3,1485.4 832.1,1486.1 832.8,1485.4 832.1,1484.7" stroke-width="2.8"/>
<path d="M843.1,1471.1 843.1,1486.1M843.1,1471.1 852.4,1471.1M843.1,1478.3 848.8,1478.3M843.1,1486.1 852.4,1486.1M856.7,1471.1 856.7,1486.1M856.7,1471.1 866.7,1486.1M866.7,1471.1 866.7,1486.1M872.4,1471.1 872.4,1486.1M872.4,1471.1 878.9,1471.1 881.0,1471.9 881.7,1472.6 882.4,1474.0 882.4,1475.4 881.7,1476.8 881.0,1477.6 878.9,1478.3M872.4,1478.3 878.9,1478.3 881.0,1479.0 881.7,1479.7 882.4,1481.1 882.4,1483.3 881.7,1484.7 881.0,1485.4 878.9,1486.1 872.4,1486.1M887.4,1471.1 887.4,1486.1M887.4,1471.1 893.9,1471.1 896.0,1471.9 896.7,1472.6 897.5,1474.0 897.5,1475.4 896.7,1476.8 896.0,1477.6 893.9,1478.3 887.4,1478.3M892.4,1478.3 897.5,1486.1M902.5,1471.1 902.5,1486.1M908.2,1471.1 908.2,1486.1M908.2,1471.1 914.6,1471.1 916.8,1471.9 917.5,1472.6 918.2,1474.0 918.2,1475.4 917.5,1476.8 916.8,1477.6 914.6,1478.3 908.2,1478.3M913.2,1478.3 918.2,1486.1M926.8,1471.1 924.6,1471.9 923.2,1474.0 922.5,1477.6 922.5,1479.7 923.2,1483.3 924.6,1485.4 926.8,1486.1 928.2,1486.1 930.4,1485.4 931.8,1483.3 932.5,1479.7 932.5,1477.6 931.8,1474.0 930.4,1471.9 928.2,1471.1 926.8,1471.1" stroke-width="2.8"/>
<path d="M77.9,1505.7 77.9,1520.7M77.9,1505.7 83.8,1520.7M89.8,1505.7 83.8,1520.7M89.8,1505.7 89.8,1520.7M98.6,1505.7 98.6,1520.7M93.5,1505.7 103.8,1505.7M107.5,1505.7 107.5,1520.7M107.5,1520.7 116.4,1520.7M120.9,1510.7 120.1,1511.4 120.9,1512.2 121.6,1511.4 120.9,1510.7M120.9,1519.3 120.1,1520.0 120.9,1520.7 121.6,1520.0 120.9,1519.3" stroke-width="2.8"/>
<path d="M138.3,1514.3 151.3,1514.3" stroke-width="2.8"/>
<path d="M1312.5,1472.6 1320.4,1472.6 1316.1,1478.3 1318.2,1478.3 1319.6,1479.1 1320.4,1479.8 1321.1,1481.9 1321.1,1483.3 1320.4,1485.5 1318.9,1486.9 1316.8,1487.6 1314.7,1487.6 1312.5,1486.9 1311.8,1486.2 1311.1,1484.8M1326.1,1472.6 1326.1,1487.6M1326.1,1472.6 1332.5,1472.6 1334.6,1473.4 1335.3,1474.1 1336.0,1475.5 1336.0,1477.6 1335.3,1479.1 1334.6,1479.8 1332.5,1480.5 1326.1,1480.5M1341.0,1472.6 1341.0,1487.6M1351.0,1472.6 1351.0,1487.6M1341.0,1479.8 1351.0,1479.8M1358.1,1486.9 1357.4,1487.6 1356.7,1486.9 1357.4,1486.2 1358.1,1486.9 1358.1,1488.3 1357.4,1489.7 1356.7,1490.4" stroke-width="2.8"/>
<path d="M1374.7,1472.6 1374.7,1487.6M1374.7,1472.6 1380.5,1472.6 1382.9,1473.4 1384.6,1474.8 1385.4,1476.2 1386.2,1478.3 1386.2,1481.9 1385.4,1484.0 1384.6,1485.5 1382.9,1486.9 1380.5,1487.6 1374.7,1487.6M1389.5,1472.6 1396.1,1487.6M1402.7,1472.6 1396.1,1487.6M1408.5,1486.9 1407.7,1487.6 1406.9,1486.9 1407.7,1486.2 1408.5,1486.9 1408.5,1488.3 1407.7,1489.7 1406.9,1490.4" stroke-width="2.8"/>
<path d="M1424.5,1475.5 1425.9,1474.8 1428.0,1472.6 1428.0,1487.6M1437.0,1476.2 1437.0,1475.5 1437.7,1474.1 1438.4,1473.4 1439.8,1472.6 1442.5,1472.6 1443.9,1473.4 1444.6,1474.1 1445.3,1475.5 1445.3,1476.9 1444.6,1478.3 1443.2,1480.5 1436.3,1487.6 1446.0,1487.6" stroke-width="2.8"/>
<path d="M1463.5,1472.6 1463.5,1487.6M1463.5,1487.6 1472.3,1487.6M1475.9,1472.6 1475.9,1487.6M1475.9,1472.6 1485.5,1472.6M1475.9,1479.8 1481.8,1479.8M1475.9,1487.6 1485.5,1487.6M1493.5,1472.6 1487.7,1487.6M1493.5,1472.6 1499.4,1487.6M1489.9,1482.6 1497.2,1482.6M1503.0,1472.6 1503.0,1487.6M1503.0,1472.6 1508.1,1472.6 1510.3,1473.4 1511.8,1474.8 1512.5,1476.2 1513.3,1478.3 1513.3,1481.9 1512.5,1484.0 1511.8,1485.5 1510.3,1486.9 1508.1,1487.6 1503.0,1487.6M1527.9,1474.8 1526.4,1473.4 1524.3,1472.6 1521.3,1472.6 1519.1,1473.4 1517.7,1474.8 1517.7,1476.2 1518.4,1477.6 1519.1,1478.3 1520.6,1479.1 1525.0,1480.5 1526.4,1481.2 1527.2,1481.9 1527.9,1483.3 1527.9,1485.5 1526.4,1486.9 1524.3,1487.6 1521.3,1487.6 1519.1,1486.9 1517.7,1485.5M1534.5,1486.9 1533.8,1487.6 1533.0,1486.9 1533.8,1486.2 1534.5,1486.9 1534.5,1488.3 1533.8,1489.7 1533.0,1490.4" stroke-width="2.8"/>
<path d="M1554.3,1472.6 1559.8,1479.8 1559.8,1487.6M1565.3,1472.6 1559.8,1479.8" stroke-width="2.8"/>
<path d="M1592.1,1474.8 1590.6,1473.4 1588.2,1472.6 1585.1,1472.6 1582.8,1473.4 1581.2,1474.8 1581.2,1476.2 1582.0,1477.6 1582.8,1478.3 1584.3,1479.1 1589.0,1480.5 1590.6,1481.2 1591.4,1481.9 1592.1,1483.3 1592.1,1485.5 1590.6,1486.9 1588.2,1487.6 1585.1,1487.6 1582.8,1486.9 1581.2,1485.5M1600.7,1472.6 1600.7,1487.6M1595.3,1472.6 1606.2,1472.6M1614.0,1472.6 1607.8,1487.6M1614.0,1472.6 1620.3,1487.6M1610.1,1482.6 1617.9,1482.6M1624.2,1472.6 1624.2,1487.6M1624.2,1472.6 1631.2,1472.6 1633.6,1473.4 1634.3,1474.1 1635.1,1475.5 1635.1,1476.9 1634.3,1478.3 1633.6,1479.1 1631.2,1479.8 1624.2,1479.8M1629.7,1479.8 1635.1,1487.6M1643.7,1472.6 1643.7,1487.6M1638.2,1472.6 1649.2,1472.6M1663.0,1471.2 1651.0,1492.2M1667.2,1472.6 1667.2,1487.6M1667.2,1472.6 1672.6,1472.6 1675.0,1473.4 1676.5,1474.8 1677.3,1476.2 1678.1,1478.3 1678.1,1481.9 1677.3,1484.0 1676.5,1485.5 1675.0,1486.9 1672.6,1487.6 1667.2,1487.6" stroke-width="2.8"/>
<path d="M1694.9,1472.6 1694.9,1487.6M1694.9,1472.6 1701.5,1472.6 1703.7,1473.4 1704.4,1474.1 1705.1,1475.5 1705.1,1476.9 1704.4,1478.3 1703.7,1479.1 1701.5,1479.8 1694.9,1479.8M1700.0,1479.8 1705.1,1487.6M1710.3,1472.6 1710.3,1483.3 1711.0,1485.5 1712.5,1486.9 1714.7,1487.6 1716.1,1487.6 1718.3,1486.9 1719.8,1485.5 1720.5,1483.3 1720.5,1472.6M1726.4,1472.6 1726.4,1487.6M1726.4,1472.6 1736.6,1487.6M1736.6,1472.6 1736.6,1487.6" stroke-width="2.8"/>
<path d="M1484.6,1510.8 1483.3,1509.7 1481.4,1509.1 1478.8,1509.1 1476.9,1509.7 1475.7,1510.8 1475.7,1512.0 1476.3,1513.2 1476.9,1513.8 1478.2,1514.4 1482.0,1515.5 1483.3,1516.1 1484.0,1516.7 1484.6,1517.9 1484.6,1519.7 1483.3,1520.9 1481.4,1521.5 1478.8,1521.5 1476.9,1520.9 1475.7,1519.7M1489.1,1509.1 1489.1,1521.5M1498.0,1509.1 1498.0,1521.5M1489.1,1515.0 1498.0,1515.0" stroke-width="2.5"/>
<path d="M1512.2,1511.4 1514.8,1510.8 1518.5,1509.1 1518.5,1521.5" stroke-width="2.5"/>
<path d="M1538.9,1513.2 1537.6,1513.8 1536.3,1515.0 1535.7,1516.7 1535.7,1517.9 1536.3,1519.7 1537.6,1520.9 1538.9,1521.5 1540.9,1521.5 1542.2,1520.9 1543.5,1519.7 1544.2,1517.9 1544.2,1516.7 1543.5,1515.0 1542.2,1513.8 1540.9,1513.2 1538.9,1513.2M1552.8,1509.1 1551.4,1509.1 1550.1,1509.7 1549.5,1511.4 1549.5,1521.5M1547.5,1513.2 1552.1,1513.2" stroke-width="2.5"/>
<path d="M1566.5,1511.4 1568.6,1510.8 1571.8,1509.1 1571.8,1521.5" stroke-width="2.5"/>
<path d="M12.8,-15.0 11.9,-16.9 10.2,-18.8 8.5,-19.7 5.1,-19.7 3.4,-18.8 1.7,-16.9 0.9,-15.0 0.0,-12.2 0.0,-7.5 0.9,-4.7 1.7,-2.8 3.4,-0.9 5.1,0.0 8.5,0.0 10.2,-0.9 11.9,-2.8 12.8,-4.7M18.7,-19.7 18.7,0.0M18.7,-19.7 24.7,-19.7 27.3,-18.8 29.0,-16.9 29.8,-15.0 30.7,-12.2 30.7,-7.5 29.8,-4.7 29.0,-2.8 27.3,-0.9 24.7,0.0 18.7,0.0M40.9,-19.7 38.3,-18.8 36.6,-16.0 35.8,-11.3 35.8,-8.5 36.6,-3.8 38.3,-0.9 40.9,0.0 42.6,0.0 45.2,-0.9 46.9,-3.8 47.7,-8.5 47.7,-11.3 46.9,-16.0 45.2,-18.8 42.6,-19.7 40.9,-19.7M55.4,-16.0 57.1,-16.9 59.6,-19.7 59.6,0.0M75.0,-19.7 72.4,-18.8 70.7,-16.0 69.9,-11.3 69.9,-8.5 70.7,-3.8 72.4,-0.9 75.0,0.0 76.7,0.0 79.2,-0.9 81.0,-3.8 81.8,-8.5 81.8,-11.3 81.0,-16.0 79.2,-18.8 76.7,-19.7 75.0,-19.7M95.4,-19.7 86.9,-6.6 99.7,-6.6M95.4,-19.7 95.4,0.0" stroke-width="2.5" transform="translate(1976.8,1262.45) rotate(90)"/>
<circle cx="1013.9" cy="1511.9" r="13.8" stroke-width="2.6"/><circle cx="1013.9" cy="1511.9" r="9.0" stroke-width="2.6"/>
<path d="M1041.4,1502.8L1064,1497.3V1526.7L1041.4,1521.2Z" stroke-width="2.5"/>
</g>
<g class="brand" font-size="54.5" stroke="#000" stroke-width="0.7">
<text x="1258.15" y="1443.85" textLength="214.6" lengthAdjust="spacingAndGlyphs">BALDOR</text>
<text x="1532.05" y="1443.85" textLength="255.7" lengthAdjust="spacingAndGlyphs">RELIANCE</text>
</g>
<rect x="1492.5" y="1426.2" width="15.6" height="5.7" fill="#000"/>
<text class="brand" x="1793.7" y="1419.4" font-size="31" textLength="22.9" lengthAdjust="spacingAndGlyphs" stroke="#000" stroke-width="0.6">&#174;</text>
</svg>
</body>
</html>
